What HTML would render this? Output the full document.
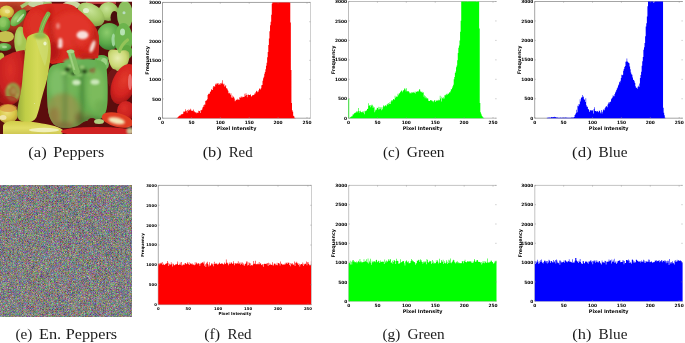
<!DOCTYPE html>
<html><head><meta charset="utf-8"><title>Peppers histograms</title>
<style>
html,body{margin:0;padding:0;background:#fff;}
body{width:685px;height:343px;overflow:hidden;position:relative;}
svg{position:absolute;left:0;top:0;}
.cap{font-family:"Liberation Serif","DejaVu Serif",serif;font-size:13.6px;fill:#1a1a1a;}
</style></head><body>
<svg width="685" height="343" viewBox="0 0 685 343">
<defs>
<filter id="noise" x="0" y="185" width="132" height="131.7" filterUnits="userSpaceOnUse" color-interpolation-filters="sRGB">
<feTurbulence type="fractalNoise" baseFrequency="2.37" numOctaves="1" seed="3" result="t"/>
<feColorMatrix type="matrix" values="1 0 0 0 0.005  0 1 0 0 0  0 0 1 0 0  0 0 0 0 1"/>
</filter>
<filter id="soft" x="-5%" y="-5%" width="110%" height="110%"><feGaussianBlur stdDeviation="0.7"/></filter>
<filter id="sh" x="-30%" y="-30%" width="160%" height="160%"><feGaussianBlur stdDeviation="2.2"/></filter>
<filter id="sh1" x="-50%" y="-50%" width="200%" height="200%"><feGaussianBlur stdDeviation="0.8"/></filter>
<clipPath id="pclip"><rect x="0" y="1.8" width="132" height="132.2"/></clipPath>
</defs>
<g clip-path="url(#pclip)">
<g filter="url(#soft)">
<defs>
<radialGradient id="gRed" cx="45%" cy="40%" r="65%"><stop offset="0" stop-color="#e23a2c"/><stop offset="0.6" stop-color="#d42420"/><stop offset="1" stop-color="#a01414"/></radialGradient>
<radialGradient id="gRed2" cx="40%" cy="35%" r="70%"><stop offset="0" stop-color="#dc3028"/><stop offset="0.65" stop-color="#c82020"/><stop offset="1" stop-color="#8a1010"/></radialGradient>
<radialGradient id="gGreen" cx="40%" cy="35%" r="70%"><stop offset="0" stop-color="#8ccc6c"/><stop offset="0.6" stop-color="#5aa848"/><stop offset="1" stop-color="#3a7a30"/></radialGradient>
<radialGradient id="gGreenL" cx="40%" cy="35%" r="70%"><stop offset="0" stop-color="#a0d878"/><stop offset="0.6" stop-color="#6cb44a"/><stop offset="1" stop-color="#4a8a34"/></radialGradient>
<radialGradient id="gLGreen" cx="40%" cy="35%" r="70%"><stop offset="0" stop-color="#c8e498"/><stop offset="0.6" stop-color="#a6ca66"/><stop offset="1" stop-color="#7a9c44"/></radialGradient>
<radialGradient id="gYel" cx="45%" cy="40%" r="65%"><stop offset="0" stop-color="#ece07c"/><stop offset="0.6" stop-color="#d8c646"/><stop offset="1" stop-color="#b09030"/></radialGradient>
<radialGradient id="gPale" cx="45%" cy="40%" r="65%"><stop offset="0" stop-color="#e8eeb0"/><stop offset="0.6" stop-color="#cad874"/><stop offset="1" stop-color="#98a84c"/></radialGradient>
<linearGradient id="gChili" x1="0" y1="0" x2="1" y2="0"><stop offset="0" stop-color="#98ae3c"/><stop offset="0.25" stop-color="#c0ce46"/><stop offset="0.6" stop-color="#d4da58"/><stop offset="1" stop-color="#bec848"/></linearGradient>
<linearGradient id="gBell" x1="0" y1="0" x2="0" y2="1"><stop offset="0" stop-color="#62aa52"/><stop offset="0.45" stop-color="#74b452"/><stop offset="0.8" stop-color="#88a048"/><stop offset="1" stop-color="#8a6a38"/></linearGradient>
<linearGradient id="gLie" x1="0" y1="0" x2="0" y2="1"><stop offset="0" stop-color="#d0cc48"/><stop offset="0.5" stop-color="#e2de66"/><stop offset="1" stop-color="#ccc450"/></linearGradient>
</defs>
<rect x="-6" y="-6" width="144" height="148" fill="#5c0e0e"/>
<!-- top strip -->
<path d="M-4,-4 H34 V9 C30,10 26,11 22,12 C18,10 14,8 10,8 L-4,8 Z" fill="#c44a30"/>
<rect x="86" y="0" width="30" height="4" fill="#b83a3a"/>
<!-- TL small peppers -->
<ellipse cx="12" cy="18" rx="16" ry="14" fill="#a8301e" filter="url(#sh)"/>
<ellipse cx="8" cy="40" rx="12" ry="8" fill="#7a1a14" filter="url(#sh)"/>
<ellipse cx="6.5" cy="12" rx="7.5" ry="6.5" fill="url(#gYel)"/>
<ellipse cx="7.5" cy="11.5" rx="2.5" ry="2" fill="#f0e8a0" opacity="0.8"/>
<ellipse cx="18.3" cy="17.8" rx="10.5" ry="5.2" transform="rotate(-48 18.3 17.8)" fill="url(#gGreenL)"/>
<ellipse cx="20.5" cy="18" rx="5.5" ry="1.2" transform="rotate(-50 20.5 18)" fill="#c0e8b0" opacity="0.85"/>
<ellipse cx="4" cy="24" rx="6.5" ry="7.5" fill="url(#gGreenL)"/>
<ellipse cx="3" cy="23" rx="3" ry="4" fill="#8cc860" opacity="0.7"/>
<ellipse cx="5.5" cy="36.5" rx="8.5" ry="5.5" fill="#c6c050"/>
<ellipse cx="4" cy="47" rx="7.5" ry="4" fill="url(#gGreen)"/>
<ellipse cx="4.5" cy="47" rx="2.5" ry="1.3" fill="#b0dca0" opacity="0.8"/>
<ellipse cx="1" cy="58" rx="3.5" ry="5.5" fill="#b0c040"/>
<ellipse cx="20.5" cy="41" rx="6.3" ry="14.5" fill="#a4c652"/>
<ellipse cx="19" cy="38" rx="3" ry="8" fill="#bcd878" opacity="0.7" filter="url(#sh1)"/>
<path d="M21,7 L30,1.5" stroke="#a6c872" stroke-width="3.5"/>
<ellipse cx="37" cy="4" rx="9" ry="3.5" fill="#c4d4a0"/>
<ellipse cx="47.5" cy="3.5" rx="4.5" ry="2.5" fill="#a0c070"/>
<ellipse cx="71.5" cy="5" rx="9" ry="4" fill="#c8d8a0"/>
<!-- top right greens -->
<ellipse cx="108.5" cy="11.5" rx="10" ry="9.5" fill="url(#gLGreen)"/>
<ellipse cx="114.5" cy="17.5" rx="4" ry="6.5" fill="#4a0e0a"/>
<ellipse cx="125" cy="15" rx="8" ry="14" fill="#8cc060"/>
<ellipse cx="124" cy="12.8" rx="1.5" ry="1.5" fill="#b8dcc0"/>
<ellipse cx="91" cy="14.5" rx="15" ry="10" transform="rotate(35 91 14.5)" fill="url(#gLGreen)"/>
<ellipse cx="86" cy="10.5" rx="3" ry="2.6" fill="#e4f2d4" opacity="0.9"/>
<!-- mid right greens -->
<ellipse cx="97.5" cy="38" rx="3" ry="12" fill="#5a0e0e"/>
<ellipse cx="109.3" cy="36.5" rx="12.5" ry="13.5" fill="url(#gGreen)"/>
<ellipse cx="113.5" cy="40" rx="2" ry="6.5" fill="#a8dca8" opacity="0.85"/>
<ellipse cx="123.5" cy="39" rx="9" ry="16" fill="#6cb44e"/>
<ellipse cx="122.5" cy="32" rx="2.5" ry="3.5" fill="#c0e8c0" opacity="0.9"/>
<ellipse cx="101.5" cy="59" rx="7" ry="4" fill="#5eae4c"/>
<ellipse cx="127" cy="52" rx="5.5" ry="7" fill="#5ea840"/>
<!-- big red pepper -->
<clipPath id="redClip"><path d="M31,9 C36,4 48,3 60,3.5 C66,3.5 70,4 74,6 C79,10 85,15 89,19 C94,24 98,30 98.7,36 C99.5,44 99,52 98,58 L52,64 C44,60 38,52 33,46 C28,42 24,38 23,32 C22,24 26,14 31,9 Z"/></clipPath>
<path d="M31,9 C36,4 48,3 60,3.5 C66,3.5 70,4 74,6 C79,10 85,15 89,19 C94,24 98,30 98.7,36 C99.5,44 99,52 98,58 L52,64 C44,60 38,52 33,46 C28,42 24,38 23,32 C22,24 26,14 31,9 Z" fill="#d82a20"/>
<g clip-path="url(#redClip)"><g filter="url(#sh)">
<ellipse cx="72" cy="30" rx="20" ry="18" fill="#e43a2a" opacity="0.8"/>
<ellipse cx="36" cy="24" rx="9" ry="13" fill="#e03428" opacity="0.7"/>
<ellipse cx="50" cy="52" rx="10" ry="10" fill="#a81616" opacity="0.7"/>
<ellipse cx="96" cy="40" rx="4" ry="16" fill="#b01a16" opacity="0.6"/>
<ellipse cx="88" cy="58" rx="10" ry="5" fill="#b81c18" opacity="0.6"/>
<path d="M50,8 C49,20 51,34 55,46" stroke="#a01412" stroke-width="2.5" fill="none" opacity="0.7"/>
<path d="M72,40 C76,48 82,54 88,56" stroke="#b01814" stroke-width="2" fill="none" opacity="0.5"/>
</g>
<g filter="url(#sh1)">
<ellipse cx="82.5" cy="35" rx="6" ry="4.3" fill="#f8e0dc"/>
<ellipse cx="60.4" cy="43" rx="2.2" ry="5" fill="#f8dcd8" opacity="0.95"/>
<ellipse cx="92.5" cy="46.5" rx="2.2" ry="6.5" transform="rotate(20 92.5 46.5)" fill="#f4d8d0"/>
<ellipse cx="58" cy="26" rx="2" ry="3" fill="#f4b8b0" opacity="0.6"/>
<ellipse cx="60" cy="46.5" rx="2.5" ry="1.8" fill="#f8e8e4" opacity="0.7"/>
</g></g>
<!-- small yellow-green pepper -->
<path d="M108,54 C108,50 111,49 114,49.5 C117,50 120,51 122,50.5 C126,49.5 129.5,51 129.5,55 C129.5,61 127,66 124,69 C121,72 116,72 113,69 C110,66 108,60 108,54 Z" fill="url(#gPale)"/>
<path d="M119.5,51.5 C121,46 124,42.5 127.5,40" stroke="#94c458" stroke-width="3.2" stroke-linecap="round" fill="none"/>
<ellipse cx="113.5" cy="79" rx="6" ry="10" fill="#701818"/>
<!-- red right -->
<ellipse cx="124" cy="84" rx="12" ry="21" transform="rotate(22 124 84)" fill="url(#gRed)"/>
<ellipse cx="130" cy="82" rx="2" ry="8" fill="#f08080" opacity="0.8"/>
<ellipse cx="126" cy="111" rx="9" ry="10" fill="url(#gRed2)"/>
<!-- left red pepper -->
<path d="M0,60 C4,56 14,51 24.5,50 C26,60 26,75 24,88 C22,98 16,105 8,106 L0,106 Z" fill="url(#gRed2)"/>
<g filter="url(#sh1)">
<ellipse cx="13" cy="92" rx="5.8" ry="7.6" fill="#a0602c" stroke="#9a9444" stroke-width="4"/>
<ellipse cx="13.5" cy="91" rx="2.8" ry="3.5" fill="#a88a48"/>
<circle cx="9" cy="87" r="1.2" fill="#c0b060"/><circle cx="17" cy="95" r="1.2" fill="#b8a858"/><circle cx="12" cy="99" r="1.1" fill="#a89850"/>
</g>
<ellipse cx="8" cy="100" rx="9" ry="4" fill="#b01a1a" opacity="0.6"/>
<!-- yellow BL -->
<ellipse cx="8" cy="114" rx="10" ry="9.5" fill="url(#gYel)"/>
<ellipse cx="8" cy="108" rx="9" ry="4" fill="#dc9a40" opacity="0.7"/>
<ellipse cx="3" cy="117.5" rx="3.5" ry="2.5" fill="#f0e4a8"/>
<!-- green bell -->
<ellipse cx="102" cy="64" rx="7" ry="7" fill="#78bc60"/>
<ellipse cx="104" cy="62" rx="3" ry="4" fill="#a8d890" opacity="0.8"/>
<clipPath id="bellClip"><path d="M48.9,70.4 C51,66 53,64.5 56.2,64.3 C59,63 61,63 63.6,63.1 C70,61 80,59.5 88,59.4 C94,59.5 98,60 100,60.7 C104,62 106,64 106.3,66.8 C107.6,75 108,90 107.6,100 C107.3,108 106,113 103.5,116.5 C100.5,119.5 96,120.5 91,120.5 C86,120.5 83,121.5 80.5,124 C76,127.5 68,128 63.6,127.8 C59,127.5 56,126 53.8,124.2 C50,120 48.2,114 47.7,107 C47,98 46.6,90 47,82.7 C47.2,77 47.8,73 48.9,70.4 Z"/></clipPath>
<path d="M48.9,70.4 C51,66 53,64.5 56.2,64.3 C59,63 61,63 63.6,63.1 C70,61 80,59.5 88,59.4 C94,59.5 98,60 100,60.7 C104,62 106,64 106.3,66.8 C107.6,75 108,90 107.6,100 C107.3,108 106,113 103.5,116.5 C100.5,119.5 96,120.5 91,120.5 C86,120.5 83,121.5 80.5,124 C76,127.5 68,128 63.6,127.8 C59,127.5 56,126 53.8,124.2 C50,120 48.2,114 47.7,107 C47,98 46.6,90 47,82.7 C47.2,77 47.8,73 48.9,70.4 Z" fill="#66ae50"/>
<g clip-path="url(#bellClip)"><g filter="url(#sh)">
<ellipse cx="57" cy="84" rx="8" ry="16" fill="#82c26a" opacity="0.8"/>
<ellipse cx="96" cy="90" rx="9" ry="22" fill="#80be5e" opacity="0.8"/>
<ellipse cx="72" cy="86" rx="6" ry="12" fill="#76b85c" opacity="0.7"/>
<ellipse cx="63" cy="110" rx="17" ry="17" fill="#8e9a4c" opacity="0.9"/>
<ellipse cx="64" cy="126" rx="12" ry="4" fill="#8a5432" opacity="0.6"/>
<ellipse cx="54" cy="116" rx="6" ry="9" fill="#9a6a38" opacity="0.5"/>
<ellipse cx="84" cy="118" rx="8" ry="6" fill="#7a8a40" opacity="0.6"/>
<ellipse cx="100" cy="108" rx="6" ry="8" fill="#6aaa4c" opacity="0.6"/>
<ellipse cx="92" cy="120" rx="13" ry="3.5" fill="#3e6a2c" opacity="0.55"/>
<ellipse cx="79" cy="120" rx="4" ry="8" fill="#7a4a2c" opacity="0.5"/>
<path d="M64.5,72 C65.5,90 65.5,110 64,126" stroke="#3e6e2c" stroke-width="2" fill="none" opacity="0.7"/>
<path d="M81.5,72 C82.5,90 82.5,110 81,126" stroke="#346c28" stroke-width="2.4" fill="none" opacity="0.8"/>
<path d="M57,96 C58,106 59,114 60,122 M70,98 C71,108 72,116 72,124" stroke="#c0a060" stroke-width="1.4" fill="none" opacity="0.5"/>
</g>
<ellipse cx="76.5" cy="82.5" rx="4.2" ry="2.8" fill="#d4ecc4" opacity="0.95" filter="url(#sh1)"/>
<ellipse cx="95" cy="82" rx="4.5" ry="2.8" fill="#d0eac0" opacity="0.95" filter="url(#sh1)"/>
<ellipse cx="92" cy="70" rx="3.2" ry="3.2" fill="#a04030" opacity="0.5" filter="url(#sh1)"/>
</g>
<!-- crown + stem -->
<g filter="url(#sh1)">
<ellipse cx="74" cy="62.5" rx="11" ry="4.5" fill="#6cb45a"/>
<ellipse cx="88" cy="64" rx="8" ry="5" fill="#68b056"/>
<ellipse cx="76" cy="70" rx="12.5" ry="5" fill="#5e9e46"/>
<ellipse cx="67.5" cy="69.5" rx="2.6" ry="2.2" fill="#2c4a1c"/>
<ellipse cx="84.5" cy="71.5" rx="2.6" ry="2" fill="#2c4a1c"/>
<ellipse cx="73" cy="74" rx="2.5" ry="1.4" fill="#2a4a1c"/>
<ellipse cx="63.5" cy="73" rx="3.2" ry="2" fill="#90c870"/><ellipse cx="70" cy="66" rx="2.5" ry="1.6" fill="#9ccc78"/><ellipse cx="82" cy="67" rx="2.5" ry="1.6" fill="#9ccc78"/>
<ellipse cx="89.5" cy="74.5" rx="3" ry="1.8" fill="#7cb85c"/>
<ellipse cx="79" cy="75" rx="3.5" ry="1.6" fill="#8ac46a"/>
<ellipse cx="70" cy="76" rx="2.5" ry="1.4" fill="#7ab85a"/>
</g>
<path d="M70.8,52.5 C72.5,58 74,64 76.5,71.5" stroke="#80bc60" stroke-width="6.5" stroke-linecap="round" fill="none"/>
<path d="M69.5,53 C71,58 72.5,64 74.5,70" stroke="#a6d688" stroke-width="1.8" fill="none" opacity="0.8"/>
<ellipse cx="70.5" cy="51.5" rx="4" ry="1.8" fill="#a8d488"/>
<!-- chili -->
<path d="M40.5,34 C41.5,26 45,19 48.2,14" stroke="#7cb44c" stroke-width="4.6" stroke-linecap="round" fill="none"/>
<path d="M40,33 C43,25 45.5,19 48,14.5" stroke="#9ccc6c" stroke-width="1" fill="none" opacity="0.8"/>
<path d="M27,38 C29,34.5 34,33 40,33 C45,33 48.5,35 49.8,40 C51,45 51,52 50.5,57 C50,62 49.6,64 49.2,66 C48.5,72 47.5,78 45.5,85 C44,90 42.5,95 41.2,100 C39.8,106 38.5,112 36.5,117 C34.5,121 31,122.5 26,122.3 C20.5,122 17,119 17,114 C17.2,108 19,100 20.5,94 C21.5,88 22,84 22.5,78 C23.2,70 23.8,64 24.5,57 C25.2,50 25.8,43 27,38 Z" fill="url(#gChili)"/>
<path d="M35,36 C40,35 46,37 48,42 C49,50 47,60 45,66 C42,60 38,48 35,36 Z" fill="#d0e07a" opacity="0.6"/>
<ellipse cx="45" cy="43.5" rx="1.6" ry="2" fill="#eef6d0" opacity="0.9"/>
<path d="M34,103 L35,104" stroke="#e8f0c8" stroke-width="1" opacity="0.6"/>
<ellipse cx="40" cy="36" rx="6.5" ry="3.2" fill="#9cbc4a" filter="url(#sh1)"/>
<ellipse cx="41" cy="34.5" rx="3.5" ry="2" fill="#90c058" filter="url(#sh1)"/>
<!-- bottom lying pale yellow -->
<path d="M3,126 C4,122 9,120.5 14,121 C24,121 36,122 42,123.5 C52,125 60,127 64,131 C64,134 60,135 50,135 L3,135 Z" fill="url(#gLie)"/>
<ellipse cx="44" cy="130" rx="15" ry="2.2" fill="#f4f4c8" opacity="0.85"/>
<!-- bottom right -->
<ellipse cx="92" cy="123" rx="5" ry="5" fill="#601010"/>
<ellipse cx="117.5" cy="120" rx="16" ry="7" transform="rotate(14 117.5 120)" fill="#e03c22"/>
<ellipse cx="116.5" cy="120.8" rx="8.5" ry="3.2" transform="rotate(12 116.5 120.8)" fill="#f4e8b8" filter="url(#sh1)"/>
<ellipse cx="99" cy="121.5" rx="5" ry="2.5" fill="#b0d080"/>
<ellipse cx="97" cy="131.5" rx="36" ry="4.5" fill="#d02020"/>
<ellipse cx="130" cy="131" rx="3.5" ry="3.5" fill="#c8dca8" opacity="0.85" filter="url(#sh1)"/>

</g>
</g>
<rect x="0" y="185" width="132" height="131.7" filter="url(#noise)"/>
<path d="M162.5,2.45H310.5" stroke="#9a9a9a" stroke-width="0.9" fill="none"/>
<path d="M162.5,2.45V118.2H310.5" stroke="#9a9a9a" stroke-width="0.9" fill="none"/>
<path d="M162.50,118.20L162.50,118.20L163.08,118.20L163.08,118.20L163.66,118.20L163.66,118.20L164.23,118.20L164.23,118.20L164.81,118.20L164.81,118.20L165.39,118.20L165.39,118.20L165.97,118.20L165.97,118.20L166.55,118.20L166.55,118.20L167.12,118.20L167.12,118.20L167.70,118.20L167.70,118.20L168.28,118.20L168.28,118.20L168.86,118.20L168.86,118.20L169.44,118.20L169.44,118.20L170.02,118.20L170.02,118.20L170.59,118.20L170.59,118.20L171.17,118.20L171.17,118.20L171.75,118.20L171.75,118.20L172.33,118.20L172.33,118.20L172.91,118.20L172.91,118.20L173.48,118.20L173.48,118.20L174.06,118.20L174.06,118.20L174.64,118.20L174.64,118.20L175.22,118.20L175.22,118.20L175.80,118.20L175.80,118.20L176.38,118.20L176.38,118.00L176.95,118.00L176.95,117.75L177.53,117.75L177.53,117.43L178.11,117.43L178.11,116.74L178.69,116.74L178.69,116.07L179.27,116.07L179.27,115.54L179.84,115.54L179.84,115.66L180.42,115.66L180.42,114.75L181.00,114.75L181.00,114.09L181.58,114.09L181.58,114.64L182.16,114.64L182.16,113.96L182.73,113.96L182.73,113.70L183.31,113.70L183.31,111.59L183.89,111.59L183.89,111.88L184.47,111.88L184.47,111.25L185.05,111.25L185.05,109.36L185.62,109.36L185.62,111.31L186.20,111.31L186.20,110.77L186.78,110.77L186.78,112.75L187.36,112.75L187.36,110.09L187.94,110.09L187.94,109.57L188.52,109.57L188.52,110.94L189.09,110.94L189.09,109.66L189.67,109.66L189.67,110.31L190.25,110.31L190.25,108.87L190.83,108.87L190.83,109.81L191.41,109.81L191.41,111.00L191.98,111.00L191.98,110.93L192.56,110.93L192.56,110.61L193.14,110.61L193.14,109.58L193.72,109.58L193.72,111.58L194.30,111.58L194.30,111.49L194.88,111.49L194.88,112.51L195.45,112.51L195.45,112.20L196.03,112.20L196.03,113.32L196.61,113.32L196.61,112.23L197.19,112.23L197.19,112.65L197.77,112.65L197.77,113.04L198.34,113.04L198.34,110.84L198.92,110.84L198.92,111.30L199.50,111.30L199.50,110.91L200.08,110.91L200.08,113.03L200.66,113.03L200.66,110.06L201.23,110.06L201.23,110.20L201.81,110.20L201.81,109.48L202.39,109.48L202.39,107.53L202.97,107.53L202.97,105.18L203.55,105.18L203.55,106.99L204.12,106.99L204.12,104.52L204.70,104.52L204.70,104.80L205.28,104.80L205.28,100.94L205.86,100.94L205.86,100.25L206.44,100.25L206.44,100.46L207.02,100.46L207.02,99.23L207.59,99.23L207.59,95.00L208.17,95.00L208.17,93.74L208.75,93.74L208.75,93.93L209.33,93.93L209.33,93.62L209.91,93.62L209.91,92.10L210.48,92.10L210.48,91.37L211.06,91.37L211.06,89.05L211.64,89.05L211.64,89.99L212.22,89.99L212.22,89.95L212.80,89.95L212.80,87.61L213.38,87.61L213.38,85.88L213.95,85.88L213.95,85.99L214.53,85.99L214.53,87.03L215.11,87.03L215.11,83.72L215.69,83.72L215.69,84.99L216.27,84.99L216.27,83.46L216.84,83.46L216.84,83.87L217.42,83.87L217.42,83.20L218.00,83.20L218.00,83.23L218.58,83.23L218.58,84.89L219.16,84.89L219.16,83.72L219.73,83.72L219.73,84.75L220.31,84.75L220.31,83.15L220.89,83.15L220.89,82.80L221.47,82.80L221.47,83.77L222.05,83.77L222.05,80.26L222.62,80.26L222.62,83.52L223.20,83.52L223.20,84.55L223.78,84.55L223.78,83.82L224.36,83.82L224.36,86.50L224.94,86.50L224.94,86.18L225.52,86.18L225.52,84.90L226.09,84.90L226.09,88.18L226.67,88.18L226.67,88.16L227.25,88.16L227.25,89.53L227.83,89.53L227.83,90.79L228.41,90.79L228.41,93.20L228.98,93.20L228.98,92.80L229.56,92.80L229.56,93.51L230.14,93.51L230.14,94.83L230.72,94.83L230.72,93.27L231.30,93.27L231.30,97.45L231.88,97.45L231.88,95.48L232.45,95.48L232.45,97.73L233.03,97.73L233.03,96.58L233.61,96.58L233.61,97.32L234.19,97.32L234.19,98.41L234.77,98.41L234.77,101.34L235.34,101.34L235.34,100.44L235.92,100.44L235.92,99.43L236.50,99.43L236.50,99.91L237.08,99.91L237.08,98.82L237.66,98.82L237.66,99.90L238.23,99.90L238.23,99.15L238.81,99.15L238.81,100.07L239.39,100.07L239.39,97.28L239.97,97.28L239.97,97.90L240.55,97.90L240.55,96.85L241.12,96.85L241.12,96.59L241.70,96.59L241.70,97.76L242.28,97.76L242.28,96.73L242.86,96.73L242.86,96.83L243.44,96.83L243.44,97.10L244.02,97.10L244.02,96.66L244.59,96.66L244.59,93.82L245.17,93.82L245.17,95.84L245.75,95.84L245.75,93.24L246.33,93.24L246.33,95.03L246.91,95.03L246.91,97.14L247.48,97.14L247.48,94.74L248.06,94.74L248.06,94.48L248.64,94.48L248.64,95.00L249.22,95.00L249.22,94.92L249.80,94.92L249.80,95.05L250.38,95.05L250.38,94.30L250.95,94.30L250.95,96.44L251.53,96.44L251.53,96.34L252.11,96.34L252.11,95.25L252.69,95.25L252.69,95.33L253.27,95.33L253.27,95.08L253.84,95.08L253.84,94.86L254.42,94.86L254.42,93.53L255.00,93.53L255.00,93.42L255.58,93.42L255.58,91.97L256.16,91.97L256.16,90.68L256.73,90.68L256.73,90.91L257.31,90.91L257.31,92.18L257.89,92.18L257.89,91.73L258.47,91.73L258.47,90.17L259.05,90.17L259.05,88.60L259.62,88.60L259.62,88.77L260.20,88.77L260.20,89.47L260.78,89.47L260.78,88.34L261.36,88.34L261.36,85.30L261.94,85.30L261.94,85.12L262.52,85.12L262.52,80.71L263.09,80.71L263.09,78.20L263.67,78.20L263.67,76.80L264.25,76.80L264.25,73.73L264.83,73.73L264.83,71.88L265.41,71.88L265.41,69.32L265.98,69.32L265.98,65.68L266.56,65.68L266.56,62.74L267.14,62.74L267.14,57.22L267.72,57.22L267.72,52.10L268.30,52.10L268.30,45.00L268.88,45.00L268.88,38.50L269.45,38.50L269.45,31.26L270.03,31.26L270.03,25.19L270.61,25.19L270.61,21.66L271.19,21.66L271.19,14.73L271.77,14.73L271.77,3.78L272.34,3.78L272.34,2.45L272.92,2.45L272.92,2.45L273.50,2.45L273.50,2.45L274.08,2.45L274.08,2.45L274.66,2.45L274.66,2.45L275.23,2.45L275.23,2.45L275.81,2.45L275.81,2.45L276.39,2.45L276.39,2.45L276.97,2.45L276.97,2.45L277.55,2.45L277.55,2.45L278.12,2.45L278.12,2.45L278.70,2.45L278.70,2.45L279.28,2.45L279.28,2.45L279.86,2.45L279.86,2.45L280.44,2.45L280.44,2.45L281.02,2.45L281.02,2.45L281.59,2.45L281.59,2.45L282.17,2.45L282.17,2.45L282.75,2.45L282.75,2.45L283.33,2.45L283.33,2.45L283.91,2.45L283.91,2.45L284.48,2.45L284.48,2.45L285.06,2.45L285.06,2.45L285.64,2.45L285.64,2.45L286.22,2.45L286.22,2.45L286.80,2.45L286.80,2.45L287.38,2.45L287.38,2.45L287.95,2.45L287.95,2.45L288.53,2.45L288.53,2.45L289.11,2.45L289.11,2.45L289.69,2.45L289.69,2.79L290.27,2.79L290.27,22.61L290.84,22.61L290.84,69.99L291.42,69.99L291.42,103.08L292.00,103.08L292.00,110.19L292.58,110.19L292.58,111.77L293.16,111.77L293.16,115.68L293.73,115.68L293.73,116.23L294.31,116.23L294.31,117.65L294.89,117.65L294.89,118.01L295.47,118.01L295.47,118.20L296.05,118.20L296.05,118.20L296.62,118.20L296.62,118.20L297.20,118.20L297.20,118.20L297.78,118.20L297.78,118.20L298.36,118.20L298.36,118.20L298.94,118.20L298.94,118.20L299.52,118.20L299.52,118.20L300.09,118.20L300.09,118.20L300.67,118.20L300.67,118.20L301.25,118.20L301.25,118.20L301.83,118.20L301.83,118.20L302.41,118.20L302.41,118.20L302.98,118.20L302.98,118.20L303.56,118.20L303.56,118.20L304.14,118.20L304.14,118.20L304.72,118.20L304.72,118.20L305.30,118.20L305.30,118.20L305.88,118.20L305.88,118.20L306.45,118.20L306.45,118.20L307.03,118.20L307.03,118.20L307.61,118.20L307.61,118.20L308.19,118.20L308.19,118.20L308.77,118.20L308.77,118.20L309.34,118.20L309.34,118.20L309.92,118.20L309.92,118.20L310.50,118.20L310.50,118.20Z" fill="#ff0000"/>
<path d="M310.5,2.45V118.2" stroke="#c8c8c8" stroke-width="0.9" fill="none"/>
<path d="M162.50,118.2v-1.2M162.50,2.45v1.2" stroke="#888" stroke-width="0.5"/>
<path d="M191.41,118.2v-1.2M191.41,2.45v1.2" stroke="#888" stroke-width="0.5"/>
<path d="M220.31,118.2v-1.2M220.31,2.45v1.2" stroke="#888" stroke-width="0.5"/>
<path d="M249.22,118.2v-1.2M249.22,2.45v1.2" stroke="#888" stroke-width="0.5"/>
<path d="M278.12,118.2v-1.2M278.12,2.45v1.2" stroke="#888" stroke-width="0.5"/>
<path d="M307.03,118.2v-1.2M307.03,2.45v1.2" stroke="#888" stroke-width="0.5"/>
<path d="M162.5,118.20h1.2M310.5,118.20h-1.2" stroke="#888" stroke-width="0.5"/>
<path d="M162.5,98.91h1.2M310.5,98.91h-1.2" stroke="#888" stroke-width="0.5"/>
<path d="M162.5,79.62h1.2M310.5,79.62h-1.2" stroke="#888" stroke-width="0.5"/>
<path d="M162.5,60.33h1.2M310.5,60.33h-1.2" stroke="#888" stroke-width="0.5"/>
<path d="M162.5,41.03h1.2M310.5,41.03h-1.2" stroke="#888" stroke-width="0.5"/>
<path d="M162.5,21.74h1.2M310.5,21.74h-1.2" stroke="#888" stroke-width="0.5"/>
<path d="M162.5,2.45h1.2M310.5,2.45h-1.2" stroke="#888" stroke-width="0.5"/>
<text x="162.50" y="124.10" font-family="'DejaVu Sans', sans-serif" font-size="4.35" font-weight="bold" text-anchor="middle">0</text>
<text x="191.41" y="124.10" font-family="'DejaVu Sans', sans-serif" font-size="4.35" font-weight="bold" text-anchor="middle">50</text>
<text x="220.31" y="124.10" font-family="'DejaVu Sans', sans-serif" font-size="4.35" font-weight="bold" text-anchor="middle">100</text>
<text x="249.22" y="124.10" font-family="'DejaVu Sans', sans-serif" font-size="4.35" font-weight="bold" text-anchor="middle">150</text>
<text x="278.12" y="124.10" font-family="'DejaVu Sans', sans-serif" font-size="4.35" font-weight="bold" text-anchor="middle">200</text>
<text x="307.03" y="124.10" font-family="'DejaVu Sans', sans-serif" font-size="4.35" font-weight="bold" text-anchor="middle">250</text>
<text x="161.10" y="119.80" font-family="'DejaVu Sans', sans-serif" font-size="4.35" font-weight="bold" text-anchor="end">0</text>
<text x="161.10" y="100.51" font-family="'DejaVu Sans', sans-serif" font-size="4.35" font-weight="bold" text-anchor="end">500</text>
<text x="161.10" y="81.22" font-family="'DejaVu Sans', sans-serif" font-size="4.35" font-weight="bold" text-anchor="end">1000</text>
<text x="161.10" y="61.93" font-family="'DejaVu Sans', sans-serif" font-size="4.35" font-weight="bold" text-anchor="end">1500</text>
<text x="161.10" y="42.63" font-family="'DejaVu Sans', sans-serif" font-size="4.35" font-weight="bold" text-anchor="end">2000</text>
<text x="161.10" y="23.34" font-family="'DejaVu Sans', sans-serif" font-size="4.35" font-weight="bold" text-anchor="end">2500</text>
<text x="161.10" y="4.05" font-family="'DejaVu Sans', sans-serif" font-size="4.35" font-weight="bold" text-anchor="end">3000</text>
<text x="236.50" y="130.00" font-family="'DejaVu Sans', sans-serif" font-size="4.9" font-weight="bold" text-anchor="middle">Pixel Intensity</text>
<text x="0" y="0" transform="translate(149.00,60.33) rotate(-90)" font-family="'DejaVu Sans', sans-serif" font-size="4.9" font-weight="bold" text-anchor="middle">Frequency</text>
<path d="M348.5,1.5H496.5" stroke="#b4b4b4" stroke-width="0.9" fill="none"/>
<path d="M348.5,1.5V118.2H496.5" stroke="#b4b4b4" stroke-width="0.9" fill="none"/>
<path d="M348.50,118.20L348.50,118.15L349.08,118.15L349.08,118.01L349.66,118.01L349.66,117.89L350.23,117.89L350.23,117.01L350.81,117.01L350.81,116.80L351.39,116.80L351.39,116.30L351.97,116.30L351.97,116.16L352.55,116.16L352.55,114.58L353.12,114.58L353.12,114.60L353.70,114.60L353.70,113.86L354.28,113.86L354.28,113.07L354.86,113.07L354.86,112.71L355.44,112.71L355.44,112.49L356.02,112.49L356.02,112.21L356.59,112.21L356.59,111.04L357.17,111.04L357.17,112.14L357.75,112.14L357.75,110.98L358.33,110.98L358.33,107.98L358.91,107.98L358.91,112.72L359.48,112.72L359.48,110.89L360.06,110.89L360.06,110.65L360.64,110.65L360.64,111.97L361.22,111.97L361.22,112.14L361.80,112.14L361.80,112.15L362.38,112.15L362.38,111.38L362.95,111.38L362.95,112.72L363.53,112.72L363.53,111.18L364.11,111.18L364.11,114.22L364.69,114.22L364.69,110.73L365.27,110.73L365.27,111.23L365.84,111.23L365.84,110.81L366.42,110.81L366.42,110.36L367.00,110.36L367.00,108.97L367.58,108.97L367.58,108.79L368.16,108.79L368.16,103.29L368.73,103.29L368.73,106.05L369.31,106.05L369.31,105.20L369.89,105.20L369.89,105.01L370.47,105.01L370.47,107.28L371.05,107.28L371.05,104.63L371.62,104.63L371.62,106.06L372.20,106.06L372.20,104.63L372.78,104.63L372.78,107.89L373.36,107.89L373.36,106.52L373.94,106.52L373.94,107.30L374.52,107.30L374.52,112.36L375.09,112.36L375.09,110.43L375.67,110.43L375.67,109.54L376.25,109.54L376.25,109.64L376.83,109.64L376.83,107.76L377.41,107.76L377.41,108.09L377.98,108.09L377.98,109.62L378.56,109.62L378.56,106.70L379.14,106.70L379.14,109.26L379.72,109.26L379.72,106.92L380.30,106.92L380.30,108.82L380.88,108.82L380.88,107.27L381.45,107.27L381.45,110.29L382.03,110.29L382.03,109.30L382.61,109.30L382.61,107.32L383.19,107.32L383.19,105.31L383.77,105.31L383.77,106.08L384.34,106.08L384.34,106.42L384.92,106.42L384.92,104.90L385.50,104.90L385.50,105.86L386.08,105.86L386.08,106.17L386.66,106.17L386.66,104.54L387.23,104.54L387.23,103.72L387.81,103.72L387.81,104.70L388.39,104.70L388.39,103.12L388.97,103.12L388.97,104.01L389.55,104.01L389.55,102.33L390.12,102.33L390.12,104.11L390.70,104.11L390.70,101.61L391.28,101.61L391.28,100.35L391.86,100.35L391.86,101.26L392.44,101.26L392.44,99.91L393.02,99.91L393.02,98.98L393.59,98.98L393.59,99.30L394.17,99.30L394.17,99.69L394.75,99.69L394.75,95.85L395.33,95.85L395.33,97.63L395.91,97.63L395.91,96.92L396.48,96.92L396.48,96.34L397.06,96.34L397.06,96.81L397.64,96.81L397.64,93.78L398.22,93.78L398.22,95.29L398.80,95.29L398.80,93.60L399.38,93.60L399.38,93.28L399.95,93.28L399.95,92.21L400.53,92.21L400.53,91.40L401.11,91.40L401.11,90.48L401.69,90.48L401.69,90.87L402.27,90.87L402.27,92.29L402.84,92.29L402.84,90.65L403.42,90.65L403.42,89.97L404.00,89.97L404.00,89.17L404.58,89.17L404.58,88.07L405.16,88.07L405.16,89.62L405.73,89.62L405.73,91.61L406.31,91.61L406.31,88.21L406.89,88.21L406.89,90.92L407.47,90.92L407.47,91.48L408.05,91.48L408.05,90.91L408.62,90.91L408.62,91.64L409.20,91.64L409.20,92.48L409.78,92.48L409.78,93.57L410.36,93.57L410.36,92.73L410.94,92.73L410.94,93.29L411.52,93.29L411.52,91.99L412.09,91.99L412.09,92.71L412.67,92.71L412.67,92.15L413.25,92.15L413.25,92.46L413.83,92.46L413.83,91.78L414.41,91.78L414.41,92.88L414.98,92.88L414.98,93.50L415.56,93.50L415.56,91.48L416.14,91.48L416.14,91.70L416.72,91.70L416.72,91.88L417.30,91.88L417.30,90.98L417.88,90.98L417.88,91.76L418.45,91.76L418.45,90.85L419.03,90.85L419.03,89.33L419.61,89.33L419.61,89.56L420.19,89.56L420.19,91.58L420.77,91.58L420.77,91.55L421.34,91.55L421.34,92.15L421.92,92.15L421.92,91.86L422.50,91.86L422.50,92.99L423.08,92.99L423.08,92.19L423.66,92.19L423.66,96.67L424.23,96.67L424.23,95.27L424.81,95.27L424.81,98.13L425.39,98.13L425.39,96.17L425.97,96.17L425.97,97.16L426.55,97.16L426.55,98.52L427.12,98.52L427.12,98.34L427.70,98.34L427.70,98.49L428.28,98.49L428.28,100.72L428.86,100.72L428.86,100.94L429.44,100.94L429.44,100.96L430.02,100.96L430.02,100.28L430.59,100.28L430.59,99.88L431.17,99.88L431.17,100.41L431.75,100.41L431.75,100.49L432.33,100.49L432.33,101.18L432.91,101.18L432.91,102.20L433.48,102.20L433.48,101.03L434.06,101.03L434.06,100.15L434.64,100.15L434.64,100.15L435.22,100.15L435.22,102.06L435.80,102.06L435.80,100.63L436.38,100.63L436.38,100.52L436.95,100.52L436.95,100.38L437.53,100.38L437.53,100.53L438.11,100.53L438.11,99.84L438.69,99.84L438.69,100.79L439.27,100.79L439.27,100.11L439.84,100.11L439.84,95.79L440.42,95.79L440.42,98.48L441.00,98.48L441.00,101.61L441.58,101.61L441.58,96.64L442.16,96.64L442.16,97.91L442.73,97.91L442.73,98.67L443.31,98.67L443.31,97.19L443.89,97.19L443.89,98.38L444.47,98.38L444.47,95.17L445.05,95.17L445.05,94.70L445.62,94.70L445.62,95.40L446.20,95.40L446.20,94.32L446.78,94.32L446.78,93.47L447.36,93.47L447.36,94.81L447.94,94.81L447.94,94.01L448.52,94.01L448.52,93.24L449.09,93.24L449.09,92.31L449.67,92.31L449.67,92.57L450.25,92.57L450.25,91.31L450.83,91.31L450.83,89.31L451.41,89.31L451.41,89.34L451.98,89.34L451.98,87.85L452.56,87.85L452.56,86.19L453.14,86.19L453.14,84.70L453.72,84.70L453.72,79.28L454.30,79.28L454.30,76.90L454.88,76.90L454.88,73.04L455.45,73.04L455.45,71.61L456.03,71.61L456.03,67.24L456.61,67.24L456.61,65.54L457.19,65.54L457.19,60.31L457.77,60.31L457.77,53.04L458.34,53.04L458.34,47.74L458.92,47.74L458.92,45.40L459.50,45.40L459.50,40.47L460.08,40.47L460.08,31.74L460.66,31.74L460.66,20.74L461.23,20.74L461.23,1.50L461.81,1.50L461.81,1.50L462.39,1.50L462.39,1.50L462.97,1.50L462.97,1.50L463.55,1.50L463.55,1.50L464.12,1.50L464.12,1.50L464.70,1.50L464.70,1.50L465.28,1.50L465.28,1.50L465.86,1.50L465.86,1.50L466.44,1.50L466.44,1.50L467.02,1.50L467.02,1.50L467.59,1.50L467.59,1.66L468.17,1.66L468.17,1.50L468.75,1.50L468.75,1.50L469.33,1.50L469.33,1.50L469.91,1.50L469.91,1.50L470.48,1.50L470.48,1.50L471.06,1.50L471.06,1.50L471.64,1.50L471.64,1.50L472.22,1.50L472.22,1.50L472.80,1.50L472.80,1.50L473.38,1.50L473.38,1.50L473.95,1.50L473.95,1.50L474.53,1.50L474.53,1.50L475.11,1.50L475.11,1.50L475.69,1.50L475.69,1.50L476.27,1.50L476.27,1.84L476.84,1.84L476.84,1.64L477.42,1.64L477.42,1.50L478.00,1.50L478.00,1.50L478.58,1.50L478.58,1.50L479.16,1.50L479.16,28.48L479.73,28.48L479.73,102.90L480.31,102.90L480.31,112.13L480.89,112.13L480.89,113.76L481.47,113.76L481.47,115.44L482.05,115.44L482.05,116.16L482.62,116.16L482.62,117.24L483.20,117.24L483.20,117.71L483.78,117.71L483.78,117.94L484.36,117.94L484.36,118.20L484.94,118.20L484.94,118.20L485.52,118.20L485.52,118.20L486.09,118.20L486.09,118.20L486.67,118.20L486.67,118.20L487.25,118.20L487.25,118.20L487.83,118.20L487.83,118.20L488.41,118.20L488.41,118.20L488.98,118.20L488.98,118.20L489.56,118.20L489.56,118.20L490.14,118.20L490.14,118.20L490.72,118.20L490.72,118.20L491.30,118.20L491.30,118.20L491.88,118.20L491.88,118.20L492.45,118.20L492.45,118.20L493.03,118.20L493.03,118.20L493.61,118.20L493.61,118.20L494.19,118.20L494.19,118.20L494.77,118.20L494.77,118.20L495.34,118.20L495.34,118.20L495.92,118.20L495.92,118.20L496.50,118.20L496.50,118.20Z M348.5,118.2V98.7H349.2V118.2Z" fill="#00ff00"/>
<path d="M348.50,118.2v-1.2M348.50,1.5v1.2" stroke="#888" stroke-width="0.5"/>
<path d="M377.41,118.2v-1.2M377.41,1.5v1.2" stroke="#888" stroke-width="0.5"/>
<path d="M406.31,118.2v-1.2M406.31,1.5v1.2" stroke="#888" stroke-width="0.5"/>
<path d="M435.22,118.2v-1.2M435.22,1.5v1.2" stroke="#888" stroke-width="0.5"/>
<path d="M464.12,118.2v-1.2M464.12,1.5v1.2" stroke="#888" stroke-width="0.5"/>
<path d="M493.03,118.2v-1.2M493.03,1.5v1.2" stroke="#888" stroke-width="0.5"/>
<path d="M348.5,118.20h1.2M496.5,118.20h-1.2" stroke="#888" stroke-width="0.5"/>
<path d="M348.5,98.75h1.2M496.5,98.75h-1.2" stroke="#888" stroke-width="0.5"/>
<path d="M348.5,79.30h1.2M496.5,79.30h-1.2" stroke="#888" stroke-width="0.5"/>
<path d="M348.5,59.85h1.2M496.5,59.85h-1.2" stroke="#888" stroke-width="0.5"/>
<path d="M348.5,40.40h1.2M496.5,40.40h-1.2" stroke="#888" stroke-width="0.5"/>
<path d="M348.5,20.95h1.2M496.5,20.95h-1.2" stroke="#888" stroke-width="0.5"/>
<path d="M348.5,1.50h1.2M496.5,1.50h-1.2" stroke="#888" stroke-width="0.5"/>
<text x="348.50" y="124.10" font-family="'DejaVu Sans', sans-serif" font-size="4.35" font-weight="bold" text-anchor="middle">0</text>
<text x="377.41" y="124.10" font-family="'DejaVu Sans', sans-serif" font-size="4.35" font-weight="bold" text-anchor="middle">50</text>
<text x="406.31" y="124.10" font-family="'DejaVu Sans', sans-serif" font-size="4.35" font-weight="bold" text-anchor="middle">100</text>
<text x="435.22" y="124.10" font-family="'DejaVu Sans', sans-serif" font-size="4.35" font-weight="bold" text-anchor="middle">150</text>
<text x="464.12" y="124.10" font-family="'DejaVu Sans', sans-serif" font-size="4.35" font-weight="bold" text-anchor="middle">200</text>
<text x="493.03" y="124.10" font-family="'DejaVu Sans', sans-serif" font-size="4.35" font-weight="bold" text-anchor="middle">250</text>
<text x="347.10" y="119.80" font-family="'DejaVu Sans', sans-serif" font-size="4.35" font-weight="bold" text-anchor="end">0</text>
<text x="347.10" y="100.35" font-family="'DejaVu Sans', sans-serif" font-size="4.35" font-weight="bold" text-anchor="end">500</text>
<text x="347.10" y="80.90" font-family="'DejaVu Sans', sans-serif" font-size="4.35" font-weight="bold" text-anchor="end">1000</text>
<text x="347.10" y="61.45" font-family="'DejaVu Sans', sans-serif" font-size="4.35" font-weight="bold" text-anchor="end">1500</text>
<text x="347.10" y="42.00" font-family="'DejaVu Sans', sans-serif" font-size="4.35" font-weight="bold" text-anchor="end">2000</text>
<text x="347.10" y="22.55" font-family="'DejaVu Sans', sans-serif" font-size="4.35" font-weight="bold" text-anchor="end">2500</text>
<text x="347.10" y="3.10" font-family="'DejaVu Sans', sans-serif" font-size="4.35" font-weight="bold" text-anchor="end">3000</text>
<text x="422.50" y="130.00" font-family="'DejaVu Sans', sans-serif" font-size="4.9" font-weight="bold" text-anchor="middle">Pixel Intensity</text>
<text x="0" y="0" transform="translate(335.00,59.85) rotate(-90)" font-family="'DejaVu Sans', sans-serif" font-size="4.9" font-weight="bold" text-anchor="middle">Frequency</text>
<path d="M534.7,1.5H682.7" stroke="#9a9a9a" stroke-width="0.9" fill="none"/>
<path d="M534.7,1.5V118.2H682.7" stroke="#9a9a9a" stroke-width="0.9" fill="none"/>
<path d="M534.70,118.20L534.70,118.20L535.28,118.20L535.28,118.20L535.86,118.20L535.86,118.20L536.43,118.20L536.43,118.20L537.01,118.20L537.01,118.20L537.59,118.20L537.59,118.20L538.17,118.20L538.17,118.20L538.75,118.20L538.75,118.20L539.33,118.20L539.33,118.20L539.90,118.20L539.90,118.20L540.48,118.20L540.48,118.20L541.06,118.20L541.06,118.20L541.64,118.20L541.64,118.20L542.22,118.20L542.22,118.20L542.79,118.20L542.79,118.20L543.37,118.20L543.37,118.20L543.95,118.20L543.95,118.20L544.53,118.20L544.53,118.20L545.11,118.20L545.11,118.20L545.68,118.20L545.68,118.20L546.26,118.20L546.26,118.20L546.84,118.20L546.84,117.70L547.42,117.70L547.42,117.84L548.00,117.84L548.00,117.54L548.58,117.54L548.58,117.78L549.15,117.78L549.15,117.59L549.73,117.59L549.73,117.58L550.31,117.58L550.31,117.79L550.89,117.79L550.89,117.22L551.47,117.22L551.47,116.99L552.04,116.99L552.04,117.16L552.62,117.16L552.62,117.25L553.20,117.25L553.20,116.99L553.78,116.99L553.78,117.13L554.36,117.13L554.36,116.79L554.93,116.79L554.93,117.03L555.51,117.03L555.51,117.31L556.09,117.31L556.09,117.47L556.67,117.47L556.67,117.50L557.25,117.50L557.25,117.49L557.83,117.49L557.83,117.67L558.40,117.67L558.40,117.68L558.98,117.68L558.98,117.66L559.56,117.66L559.56,117.71L560.14,117.71L560.14,117.52L560.72,117.52L560.72,117.69L561.29,117.69L561.29,117.73L561.87,117.73L561.87,117.80L562.45,117.80L562.45,117.59L563.03,117.59L563.03,117.65L563.61,117.65L563.61,117.43L564.18,117.43L564.18,117.63L564.76,117.63L564.76,117.41L565.34,117.41L565.34,117.51L565.92,117.51L565.92,117.85L566.50,117.85L566.50,117.41L567.08,117.41L567.08,117.81L567.65,117.81L567.65,117.74L568.23,117.74L568.23,117.66L568.81,117.66L568.81,117.76L569.39,117.76L569.39,117.77L569.97,117.77L569.97,117.84L570.54,117.84L570.54,117.67L571.12,117.67L571.12,117.62L571.70,117.62L571.70,117.62L572.28,117.62L572.28,117.57L572.86,117.57L572.86,117.69L573.43,117.69L573.43,117.27L574.01,117.27L574.01,116.88L574.59,116.88L574.59,114.90L575.17,114.90L575.17,114.27L575.75,114.27L575.75,113.12L576.33,113.12L576.33,109.77L576.90,109.77L576.90,112.36L577.48,112.36L577.48,105.77L578.06,105.77L578.06,106.15L578.64,106.15L578.64,103.93L579.22,103.93L579.22,104.50L579.79,104.50L579.79,99.25L580.37,99.25L580.37,101.38L580.95,101.38L580.95,97.96L581.53,97.96L581.53,97.10L582.11,97.10L582.11,95.03L582.68,95.03L582.68,97.23L583.26,97.23L583.26,96.53L583.84,96.53L583.84,98.94L584.42,98.94L584.42,100.05L585.00,100.05L585.00,102.06L585.58,102.06L585.58,98.37L586.15,98.37L586.15,105.19L586.73,105.19L586.73,106.84L587.31,106.84L587.31,106.68L587.89,106.68L587.89,108.96L588.47,108.96L588.47,109.40L589.04,109.40L589.04,111.89L589.62,111.89L589.62,110.47L590.20,110.47L590.20,110.16L590.78,110.16L590.78,110.31L591.36,110.31L591.36,110.50L591.93,110.50L591.93,110.69L592.51,110.69L592.51,110.08L593.09,110.08L593.09,113.38L593.67,113.38L593.67,109.03L594.25,109.03L594.25,107.19L594.83,107.19L594.83,111.04L595.40,111.04L595.40,111.04L595.98,111.04L595.98,111.63L596.56,111.63L596.56,111.02L597.14,111.02L597.14,111.10L597.72,111.10L597.72,111.65L598.29,111.65L598.29,112.34L598.87,112.34L598.87,110.73L599.45,110.73L599.45,110.75L600.03,110.75L600.03,113.24L600.61,113.24L600.61,111.64L601.18,111.64L601.18,109.92L601.76,109.92L601.76,113.50L602.34,113.50L602.34,111.75L602.92,111.75L602.92,110.19L603.50,110.19L603.50,109.27L604.08,109.27L604.08,110.14L604.65,110.14L604.65,108.15L605.23,108.15L605.23,107.15L605.81,107.15L605.81,106.14L606.39,106.14L606.39,106.26L606.97,106.26L606.97,107.20L607.54,107.20L607.54,104.54L608.12,104.54L608.12,102.47L608.70,102.47L608.70,103.84L609.28,103.84L609.28,102.22L609.86,102.22L609.86,102.12L610.43,102.12L610.43,101.56L611.01,101.56L611.01,99.13L611.59,99.13L611.59,98.23L612.17,98.23L612.17,97.41L612.75,97.41L612.75,95.29L613.33,95.29L613.33,96.34L613.90,96.34L613.90,96.19L614.48,96.19L614.48,93.94L615.06,93.94L615.06,92.56L615.64,92.56L615.64,91.61L616.22,91.61L616.22,89.93L616.79,89.93L616.79,88.47L617.37,88.47L617.37,87.47L617.95,87.47L617.95,85.55L618.53,85.55L618.53,84.55L619.11,84.55L619.11,81.86L619.68,81.86L619.68,82.54L620.26,82.54L620.26,80.77L620.84,80.77L620.84,77.90L621.42,77.90L621.42,74.73L622.00,74.73L622.00,75.33L622.58,75.33L622.58,74.64L623.15,74.64L623.15,70.70L623.73,70.70L623.73,69.06L624.31,69.06L624.31,66.97L624.89,66.97L624.89,65.95L625.47,65.95L625.47,61.86L626.04,61.86L626.04,61.59L626.62,61.59L626.62,58.55L627.20,58.55L627.20,61.38L627.78,61.38L627.78,61.89L628.36,61.89L628.36,63.08L628.93,63.08L628.93,63.35L629.51,63.35L629.51,66.46L630.09,66.46L630.09,69.17L630.67,69.17L630.67,72.42L631.25,72.42L631.25,74.17L631.83,74.17L631.83,74.71L632.40,74.71L632.40,77.51L632.98,77.51L632.98,79.72L633.56,79.72L633.56,80.06L634.14,80.06L634.14,81.32L634.72,81.32L634.72,83.10L635.29,83.10L635.29,86.19L635.87,86.19L635.87,87.65L636.45,87.65L636.45,87.79L637.03,87.79L637.03,88.66L637.61,88.66L637.61,86.87L638.18,86.87L638.18,85.73L638.76,85.73L638.76,87.08L639.34,87.08L639.34,83.56L639.92,83.56L639.92,78.04L640.50,78.04L640.50,75.11L641.08,75.11L641.08,71.75L641.65,71.75L641.65,65.73L642.23,65.73L642.23,61.24L642.81,61.24L642.81,57.05L643.39,57.05L643.39,49.63L643.97,49.63L643.97,47.25L644.54,47.25L644.54,42.99L645.12,42.99L645.12,36.31L645.70,36.31L645.70,26.40L646.28,26.40L646.28,23.24L646.86,23.24L646.86,16.49L647.43,16.49L647.43,6.27L648.01,6.27L648.01,1.50L648.59,1.50L648.59,1.50L649.17,1.50L649.17,1.50L649.75,1.50L649.75,1.50L650.33,1.50L650.33,1.50L650.90,1.50L650.90,1.50L651.48,1.50L651.48,1.50L652.06,1.50L652.06,1.50L652.64,1.50L652.64,1.50L653.22,1.50L653.22,2.63L653.79,2.63L653.79,1.50L654.37,1.50L654.37,2.36L654.95,2.36L654.95,1.50L655.53,1.50L655.53,1.50L656.11,1.50L656.11,1.50L656.68,1.50L656.68,1.50L657.26,1.50L657.26,1.50L657.84,1.50L657.84,1.50L658.42,1.50L658.42,1.50L659.00,1.50L659.00,1.50L659.58,1.50L659.58,1.50L660.15,1.50L660.15,1.50L660.73,1.50L660.73,1.50L661.31,1.50L661.31,1.50L661.89,1.50L661.89,1.50L662.47,1.50L662.47,1.50L663.04,1.50L663.04,107.84L663.62,107.84L663.62,112.67L664.20,112.67L664.20,115.30L664.78,115.30L664.78,117.63L665.36,117.63L665.36,118.20L665.93,118.20L665.93,118.20L666.51,118.20L666.51,118.20L667.09,118.20L667.09,118.20L667.67,118.20L667.67,118.20L668.25,118.20L668.25,118.20L668.83,118.20L668.83,118.20L669.40,118.20L669.40,118.20L669.98,118.20L669.98,118.20L670.56,118.20L670.56,118.20L671.14,118.20L671.14,118.20L671.72,118.20L671.72,118.20L672.29,118.20L672.29,118.20L672.87,118.20L672.87,118.20L673.45,118.20L673.45,118.20L674.03,118.20L674.03,118.20L674.61,118.20L674.61,118.20L675.18,118.20L675.18,118.20L675.76,118.20L675.76,118.20L676.34,118.20L676.34,118.20L676.92,118.20L676.92,118.20L677.50,118.20L677.50,118.20L678.08,118.20L678.08,118.20L678.65,118.20L678.65,118.20L679.23,118.20L679.23,118.20L679.81,118.20L679.81,118.20L680.39,118.20L680.39,118.20L680.97,118.20L680.97,118.20L681.54,118.20L681.54,118.20L682.12,118.20L682.12,118.20L682.70,118.20L682.70,118.20Z" fill="#0000ff"/>
<path d="M534.70,118.2v-1.2M534.70,1.5v1.2" stroke="#888" stroke-width="0.5"/>
<path d="M563.61,118.2v-1.2M563.61,1.5v1.2" stroke="#888" stroke-width="0.5"/>
<path d="M592.51,118.2v-1.2M592.51,1.5v1.2" stroke="#888" stroke-width="0.5"/>
<path d="M621.42,118.2v-1.2M621.42,1.5v1.2" stroke="#888" stroke-width="0.5"/>
<path d="M650.33,118.2v-1.2M650.33,1.5v1.2" stroke="#888" stroke-width="0.5"/>
<path d="M679.23,118.2v-1.2M679.23,1.5v1.2" stroke="#888" stroke-width="0.5"/>
<path d="M534.7,118.20h1.2M682.7,118.20h-1.2" stroke="#888" stroke-width="0.5"/>
<path d="M534.7,98.75h1.2M682.7,98.75h-1.2" stroke="#888" stroke-width="0.5"/>
<path d="M534.7,79.30h1.2M682.7,79.30h-1.2" stroke="#888" stroke-width="0.5"/>
<path d="M534.7,59.85h1.2M682.7,59.85h-1.2" stroke="#888" stroke-width="0.5"/>
<path d="M534.7,40.40h1.2M682.7,40.40h-1.2" stroke="#888" stroke-width="0.5"/>
<path d="M534.7,20.95h1.2M682.7,20.95h-1.2" stroke="#888" stroke-width="0.5"/>
<path d="M534.7,1.50h1.2M682.7,1.50h-1.2" stroke="#888" stroke-width="0.5"/>
<text x="534.70" y="124.10" font-family="'DejaVu Sans', sans-serif" font-size="4.35" font-weight="bold" text-anchor="middle">0</text>
<text x="563.61" y="124.10" font-family="'DejaVu Sans', sans-serif" font-size="4.35" font-weight="bold" text-anchor="middle">50</text>
<text x="592.51" y="124.10" font-family="'DejaVu Sans', sans-serif" font-size="4.35" font-weight="bold" text-anchor="middle">100</text>
<text x="621.42" y="124.10" font-family="'DejaVu Sans', sans-serif" font-size="4.35" font-weight="bold" text-anchor="middle">150</text>
<text x="650.33" y="124.10" font-family="'DejaVu Sans', sans-serif" font-size="4.35" font-weight="bold" text-anchor="middle">200</text>
<text x="679.23" y="124.10" font-family="'DejaVu Sans', sans-serif" font-size="4.35" font-weight="bold" text-anchor="middle">250</text>
<text x="533.30" y="119.80" font-family="'DejaVu Sans', sans-serif" font-size="4.35" font-weight="bold" text-anchor="end">0</text>
<text x="533.30" y="100.35" font-family="'DejaVu Sans', sans-serif" font-size="4.35" font-weight="bold" text-anchor="end">500</text>
<text x="533.30" y="80.90" font-family="'DejaVu Sans', sans-serif" font-size="4.35" font-weight="bold" text-anchor="end">1000</text>
<text x="533.30" y="61.45" font-family="'DejaVu Sans', sans-serif" font-size="4.35" font-weight="bold" text-anchor="end">1500</text>
<text x="533.30" y="42.00" font-family="'DejaVu Sans', sans-serif" font-size="4.35" font-weight="bold" text-anchor="end">2000</text>
<text x="533.30" y="22.55" font-family="'DejaVu Sans', sans-serif" font-size="4.35" font-weight="bold" text-anchor="end">2500</text>
<text x="533.30" y="3.10" font-family="'DejaVu Sans', sans-serif" font-size="4.35" font-weight="bold" text-anchor="end">3000</text>
<text x="608.70" y="130.00" font-family="'DejaVu Sans', sans-serif" font-size="4.9" font-weight="bold" text-anchor="middle">Pixel Intensity</text>
<text x="0" y="0" transform="translate(521.20,59.85) rotate(-90)" font-family="'DejaVu Sans', sans-serif" font-size="4.9" font-weight="bold" text-anchor="middle">Frequency</text>
<path d="M158.3,185.4H311.5" stroke="#a0a0a0" stroke-width="0.9" fill="none"/>
<path d="M158.3,185.4V304.6H311.5" stroke="#a0a0a0" stroke-width="0.9" fill="none"/>
<path d="M158.30,304.60L158.30,263.86L158.90,263.86L158.90,263.32L159.50,263.32L159.50,264.50L160.10,264.50L160.10,263.46L160.69,263.46L160.69,262.74L161.29,262.74L161.29,263.39L161.89,263.39L161.89,261.93L162.49,261.93L162.49,265.04L163.09,265.04L163.09,263.83L163.69,263.83L163.69,264.81L164.28,264.81L164.28,264.91L164.88,264.91L164.88,264.15L165.48,264.15L165.48,263.63L166.08,263.63L166.08,263.38L166.68,263.38L166.68,263.27L167.28,263.27L167.28,261.07L167.88,261.07L167.88,262.82L168.47,262.82L168.47,265.94L169.07,265.94L169.07,263.65L169.67,263.65L169.67,264.71L170.27,264.71L170.27,264.57L170.87,264.57L170.87,262.25L171.47,262.25L171.47,264.20L172.06,264.20L172.06,266.39L172.66,266.39L172.66,263.52L173.26,263.52L173.26,264.28L173.86,264.28L173.86,265.41L174.46,265.41L174.46,265.08L175.06,265.08L175.06,264.71L175.65,264.71L175.65,263.94L176.25,263.94L176.25,264.46L176.85,264.46L176.85,263.82L177.45,263.82L177.45,261.58L178.05,261.58L178.05,264.93L178.65,264.93L178.65,264.94L179.25,264.94L179.25,264.23L179.84,264.23L179.84,262.52L180.44,262.52L180.44,264.81L181.04,264.81L181.04,262.09L181.64,262.09L181.64,265.58L182.24,265.58L182.24,265.23L182.84,265.23L182.84,263.98L183.43,263.98L183.43,265.01L184.03,265.01L184.03,264.70L184.63,264.70L184.63,263.34L185.23,263.34L185.23,262.99L185.83,262.99L185.83,263.77L186.43,263.77L186.43,264.26L187.03,264.26L187.03,262.20L187.62,262.20L187.62,263.40L188.22,263.40L188.22,264.21L188.82,264.21L188.82,262.37L189.42,262.37L189.42,265.06L190.02,265.06L190.02,263.70L190.62,263.70L190.62,263.07L191.21,263.07L191.21,263.93L191.81,263.93L191.81,264.64L192.41,264.64L192.41,263.47L193.01,263.47L193.01,264.60L193.61,264.60L193.61,264.67L194.21,264.67L194.21,265.21L194.80,265.21L194.80,262.25L195.40,262.25L195.40,264.61L196.00,264.61L196.00,262.44L196.60,262.44L196.60,263.43L197.20,263.43L197.20,264.24L197.80,264.24L197.80,263.06L198.40,263.06L198.40,263.57L198.99,263.57L198.99,263.75L199.59,263.75L199.59,265.66L200.19,265.66L200.19,263.82L200.79,263.82L200.79,262.78L201.39,262.78L201.39,263.29L201.99,263.29L201.99,262.65L202.58,262.65L202.58,262.02L203.18,262.02L203.18,263.39L203.78,263.39L203.78,261.40L204.38,261.40L204.38,265.84L204.98,265.84L204.98,264.22L205.58,264.22L205.58,267.12L206.18,267.12L206.18,262.87L206.77,262.87L206.77,263.79L207.37,263.79L207.37,261.77L207.97,261.77L207.97,264.38L208.57,264.38L208.57,266.49L209.17,266.49L209.17,262.29L209.77,262.29L209.77,265.62L210.36,265.62L210.36,265.53L210.96,265.53L210.96,264.14L211.56,264.14L211.56,263.11L212.16,263.11L212.16,264.56L212.76,264.56L212.76,263.68L213.36,263.68L213.36,266.30L213.95,266.30L213.95,261.71L214.55,261.71L214.55,264.00L215.15,264.00L215.15,263.76L215.75,263.76L215.75,263.17L216.35,263.17L216.35,263.70L216.95,263.70L216.95,263.66L217.55,263.66L217.55,265.09L218.14,265.09L218.14,264.06L218.74,264.06L218.74,263.36L219.34,263.36L219.34,262.59L219.94,262.59L219.94,264.07L220.54,264.07L220.54,263.80L221.14,263.80L221.14,263.48L221.73,263.48L221.73,263.19L222.33,263.19L222.33,263.65L222.93,263.65L222.93,264.23L223.53,264.23L223.53,264.56L224.13,264.56L224.13,262.48L224.73,262.48L224.73,263.54L225.32,263.54L225.32,263.89L225.92,263.89L225.92,259.49L226.52,259.49L226.52,262.79L227.12,262.79L227.12,262.83L227.72,262.83L227.72,263.72L228.32,263.72L228.32,265.20L228.92,265.20L228.92,262.47L229.51,262.47L229.51,264.03L230.11,264.03L230.11,263.85L230.71,263.85L230.71,262.61L231.31,262.61L231.31,262.62L231.91,262.62L231.91,263.61L232.51,263.61L232.51,263.89L233.10,263.89L233.10,261.25L233.70,261.25L233.70,263.18L234.30,263.18L234.30,265.22L234.90,265.22L234.90,262.96L235.50,262.96L235.50,263.72L236.10,263.72L236.10,263.87L236.70,263.87L236.70,263.05L237.29,263.05L237.29,263.61L237.89,263.61L237.89,261.36L238.49,261.36L238.49,263.65L239.09,263.65L239.09,263.59L239.69,263.59L239.69,262.44L240.29,262.44L240.29,264.63L240.88,264.63L240.88,262.62L241.48,262.62L241.48,263.99L242.08,263.99L242.08,262.41L242.68,262.41L242.68,264.99L243.28,264.99L243.28,263.38L243.88,263.38L243.88,265.95L244.47,265.95L244.48,264.47L245.07,264.47L245.07,263.89L245.67,263.89L245.67,263.28L246.27,263.28L246.27,261.40L246.87,261.40L246.87,261.58L247.47,261.58L247.47,265.62L248.07,265.62L248.07,264.88L248.66,264.88L248.66,262.32L249.26,262.32L249.26,263.35L249.86,263.35L249.86,265.65L250.46,265.65L250.46,263.30L251.06,263.30L251.06,265.34L251.66,265.34L251.66,265.00L252.25,265.00L252.25,265.51L252.85,265.51L252.85,264.24L253.45,264.24L253.45,261.05L254.05,261.05L254.05,263.43L254.65,263.43L254.65,264.05L255.25,264.05L255.25,260.72L255.85,260.72L255.85,264.50L256.44,264.50L256.44,264.10L257.04,264.10L257.04,264.25L257.64,264.25L257.64,263.38L258.24,263.38L258.24,264.31L258.84,264.31L258.84,262.06L259.44,262.06L259.44,264.28L260.03,264.28L260.03,263.20L260.63,263.20L260.63,263.63L261.23,263.63L261.23,265.00L261.83,265.00L261.83,265.15L262.43,265.15L262.43,263.98L263.03,263.98L263.03,266.83L263.62,266.83L263.62,263.89L264.22,263.89L264.22,263.81L264.82,263.81L264.82,263.73L265.42,263.73L265.42,264.01L266.02,264.01L266.02,263.46L266.62,263.46L266.62,264.36L267.22,264.36L267.22,263.10L267.81,263.10L267.81,265.98L268.41,265.98L268.41,262.76L269.01,262.76L269.01,265.03L269.61,265.03L269.61,263.30L270.21,263.30L270.21,264.50L270.81,264.50L270.81,264.45L271.40,264.45L271.40,264.92L272.00,264.92L272.00,262.21L272.60,262.21L272.60,265.29L273.20,265.29L273.20,265.44L273.80,265.44L273.80,263.64L274.40,263.64L274.40,263.58L275.00,263.58L275.00,263.86L275.59,263.86L275.59,265.13L276.19,265.13L276.19,264.74L276.79,264.74L276.79,262.76L277.39,262.76L277.39,265.22L277.99,265.22L277.99,263.14L278.59,263.14L278.59,262.99L279.18,262.99L279.18,263.74L279.78,263.74L279.78,265.45L280.38,265.45L280.38,261.49L280.98,261.49L280.98,263.75L281.58,263.75L281.58,263.66L282.18,263.66L282.18,264.39L282.77,264.39L282.77,265.11L283.37,265.11L283.37,264.25L283.97,264.25L283.97,263.66L284.57,263.66L284.57,264.98L285.17,264.98L285.17,263.76L285.77,263.76L285.77,262.45L286.37,262.45L286.37,263.36L286.96,263.36L286.96,264.03L287.56,264.03L287.56,262.58L288.16,262.58L288.16,262.75L288.76,262.75L288.76,262.77L289.36,262.77L289.36,264.92L289.96,264.92L289.96,266.21L290.55,266.21L290.55,262.90L291.15,262.90L291.15,263.83L291.75,263.83L291.75,264.38L292.35,264.38L292.35,263.30L292.95,263.30L292.95,264.48L293.55,264.48L293.55,264.69L294.15,264.69L294.15,261.62L294.74,261.62L294.74,265.92L295.34,265.92L295.34,262.85L295.94,262.85L295.94,262.63L296.54,262.63L296.54,261.66L297.14,261.66L297.14,263.59L297.74,263.59L297.74,263.27L298.33,263.27L298.33,265.07L298.93,265.07L298.93,263.87L299.53,263.87L299.53,266.57L300.13,266.57L300.13,264.63L300.73,264.63L300.73,263.95L301.33,263.95L301.33,264.04L301.93,264.04L301.93,264.52L302.52,264.52L302.52,262.44L303.12,262.44L303.12,265.92L303.72,265.92L303.72,263.74L304.32,263.74L304.32,264.42L304.92,264.42L304.92,263.86L305.52,263.86L305.52,263.84L306.11,263.84L306.11,261.45L306.71,261.45L306.71,265.26L307.31,265.26L307.31,262.21L307.91,262.21L307.91,262.14L308.51,262.14L308.51,264.07L309.11,264.07L309.11,264.69L309.70,264.69L309.70,265.48L310.30,265.48L310.30,265.00L310.90,265.00L310.90,261.32L311.50,261.32L311.50,304.60Z" fill="#ff0000"/>
<path d="M311.5,185.4V304.6" stroke="#c8c8c8" stroke-width="0.9" fill="none"/>
<path d="M158.30,304.6v-1.2M158.30,185.4v1.2" stroke="#888" stroke-width="0.5"/>
<path d="M188.22,304.6v-1.2M188.22,185.4v1.2" stroke="#888" stroke-width="0.5"/>
<path d="M218.14,304.6v-1.2M218.14,185.4v1.2" stroke="#888" stroke-width="0.5"/>
<path d="M248.07,304.6v-1.2M248.07,185.4v1.2" stroke="#888" stroke-width="0.5"/>
<path d="M277.99,304.6v-1.2M277.99,185.4v1.2" stroke="#888" stroke-width="0.5"/>
<path d="M307.91,304.6v-1.2M307.91,185.4v1.2" stroke="#888" stroke-width="0.5"/>
<path d="M158.3,304.60h1.2M311.5,304.60h-1.2" stroke="#888" stroke-width="0.5"/>
<path d="M158.3,284.73h1.2M311.5,284.73h-1.2" stroke="#888" stroke-width="0.5"/>
<path d="M158.3,264.87h1.2M311.5,264.87h-1.2" stroke="#888" stroke-width="0.5"/>
<path d="M158.3,245.00h1.2M311.5,245.00h-1.2" stroke="#888" stroke-width="0.5"/>
<path d="M158.3,225.13h1.2M311.5,225.13h-1.2" stroke="#888" stroke-width="0.5"/>
<path d="M158.3,205.27h1.2M311.5,205.27h-1.2" stroke="#888" stroke-width="0.5"/>
<path d="M158.3,185.40h1.2M311.5,185.40h-1.2" stroke="#888" stroke-width="0.5"/>
<text x="158.30" y="309.90" font-family="'DejaVu Sans', sans-serif" font-size="3.85" font-weight="bold" text-anchor="middle">0</text>
<text x="188.22" y="309.90" font-family="'DejaVu Sans', sans-serif" font-size="3.85" font-weight="bold" text-anchor="middle">50</text>
<text x="218.14" y="309.90" font-family="'DejaVu Sans', sans-serif" font-size="3.85" font-weight="bold" text-anchor="middle">100</text>
<text x="248.07" y="309.90" font-family="'DejaVu Sans', sans-serif" font-size="3.85" font-weight="bold" text-anchor="middle">150</text>
<text x="277.99" y="309.90" font-family="'DejaVu Sans', sans-serif" font-size="3.85" font-weight="bold" text-anchor="middle">200</text>
<text x="307.91" y="309.90" font-family="'DejaVu Sans', sans-serif" font-size="3.85" font-weight="bold" text-anchor="middle">250</text>
<text x="156.90" y="306.00" font-family="'DejaVu Sans', sans-serif" font-size="3.85" font-weight="bold" text-anchor="end">0</text>
<text x="156.90" y="286.13" font-family="'DejaVu Sans', sans-serif" font-size="3.85" font-weight="bold" text-anchor="end">500</text>
<text x="156.90" y="266.27" font-family="'DejaVu Sans', sans-serif" font-size="3.85" font-weight="bold" text-anchor="end">1000</text>
<text x="156.90" y="246.40" font-family="'DejaVu Sans', sans-serif" font-size="3.85" font-weight="bold" text-anchor="end">1500</text>
<text x="156.90" y="226.53" font-family="'DejaVu Sans', sans-serif" font-size="3.85" font-weight="bold" text-anchor="end">2000</text>
<text x="156.90" y="206.67" font-family="'DejaVu Sans', sans-serif" font-size="3.85" font-weight="bold" text-anchor="end">2500</text>
<text x="156.90" y="186.80" font-family="'DejaVu Sans', sans-serif" font-size="3.85" font-weight="bold" text-anchor="end">3000</text>
<text x="234.90" y="314.80" font-family="'DejaVu Sans', sans-serif" font-size="4.05" font-weight="bold" text-anchor="middle">Pixel Intensity</text>
<text x="0" y="0" transform="translate(144.00,245.00) rotate(-90)" font-family="'DejaVu Sans', sans-serif" font-size="4.05" font-weight="bold" text-anchor="middle">Frequency</text>
<path d="M348.7,185.4H496.5" stroke="#bcbcbc" stroke-width="0.9" fill="none"/>
<path d="M348.7,185.4V301.2H496.5" stroke="#bcbcbc" stroke-width="0.9" fill="none"/>
<path d="M348.70,301.20L348.70,263.13L349.28,263.13L349.28,263.09L349.85,263.09L349.85,260.85L350.43,260.85L350.43,264.51L351.01,264.51L351.01,261.85L351.59,261.85L351.59,264.46L352.16,264.46L352.16,260.31L352.74,260.31L352.74,261.42L353.32,261.42L353.32,260.00L353.90,260.00L353.90,262.30L354.47,262.30L354.47,261.18L355.05,261.18L355.05,262.03L355.63,262.03L355.63,262.59L356.21,262.59L356.21,261.49L356.78,261.49L356.78,263.23L357.36,263.23L357.36,262.11L357.94,262.11L357.94,260.81L358.51,260.81L358.51,261.60L359.09,261.60L359.09,262.18L359.67,262.18L359.67,258.97L360.25,258.97L360.25,261.60L360.82,261.60L360.82,262.40L361.40,262.40L361.40,261.48L361.98,261.48L361.98,262.32L362.56,262.32L362.56,262.15L363.13,262.15L363.13,262.11L363.71,262.11L363.71,259.17L364.29,259.17L364.29,261.65L364.87,261.65L364.87,261.46L365.44,261.46L365.44,260.84L366.02,260.84L366.02,259.18L366.60,259.18L366.60,261.95L367.18,261.95L367.18,262.44L367.75,262.44L367.75,258.62L368.33,258.62L368.33,263.48L368.91,263.48L368.91,262.13L369.48,262.13L369.48,260.85L370.06,260.85L370.06,258.85L370.64,258.85L370.64,262.85L371.22,262.85L371.22,264.67L371.79,264.67L371.79,260.86L372.37,260.86L372.37,262.32L372.95,262.32L372.95,262.15L373.53,262.15L373.53,261.10L374.10,261.10L374.10,261.40L374.68,261.40L374.68,261.31L375.26,261.31L375.26,262.21L375.84,262.21L375.84,260.08L376.41,260.08L376.41,259.81L376.99,259.81L376.99,261.63L377.57,261.63L377.57,262.23L378.14,262.23L378.14,260.77L378.72,260.77L378.72,261.08L379.30,261.08L379.30,262.96L379.88,262.96L379.88,262.24L380.45,262.24L380.45,260.38L381.03,260.38L381.03,261.79L381.61,261.79L381.61,262.08L382.19,262.08L382.19,261.41L382.76,261.41L382.76,261.71L383.34,261.71L383.34,261.68L383.92,261.68L383.92,264.06L384.50,264.06L384.50,259.51L385.07,259.51L385.07,261.43L385.65,261.43L385.65,262.76L386.23,262.76L386.23,260.46L386.80,260.46L386.80,261.29L387.38,261.29L387.38,261.65L387.96,261.65L387.96,260.38L388.54,260.38L388.54,258.88L389.11,258.88L389.11,260.99L389.69,260.99L389.69,259.72L390.27,259.72L390.27,259.01L390.85,259.01L390.85,262.93L391.42,262.93L391.42,262.32L392.00,262.32L392.00,260.71L392.58,260.71L392.58,263.78L393.16,263.78L393.16,262.00L393.73,262.00L393.73,260.08L394.31,260.08L394.31,260.39L394.89,260.39L394.89,260.96L395.46,260.96L395.46,264.01L396.04,264.01L396.04,258.77L396.62,258.77L396.62,260.99L397.20,260.99L397.20,260.73L397.77,260.73L397.77,261.06L398.35,261.06L398.35,263.79L398.93,263.79L398.93,263.45L399.51,263.45L399.51,263.18L400.08,263.18L400.08,259.30L400.66,259.30L400.66,262.70L401.24,262.70L401.24,261.97L401.82,261.97L401.82,261.99L402.39,261.99L402.39,260.97L402.97,260.97L402.97,261.06L403.55,261.06L403.55,261.34L404.12,261.34L404.12,263.23L404.70,263.23L404.70,265.55L405.28,265.55L405.28,261.47L405.86,261.47L405.86,261.34L406.43,261.34L406.43,260.15L407.01,260.15L407.01,261.80L407.59,261.80L407.59,262.43L408.17,262.43L408.17,261.17L408.74,261.17L408.74,263.59L409.32,263.59L409.32,262.96L409.90,262.96L409.90,262.92L410.48,262.92L410.48,261.32L411.05,261.32L411.05,259.09L411.63,259.09L411.63,260.73L412.21,260.73L412.21,260.26L412.79,260.26L412.79,261.38L413.36,261.38L413.36,261.33L413.94,261.33L413.94,262.23L414.52,262.23L414.52,262.02L415.09,262.02L415.09,264.67L415.67,264.67L415.67,263.16L416.25,263.16L416.25,263.26L416.83,263.26L416.83,260.64L417.40,260.64L417.40,260.85L417.98,260.85L417.98,260.26L418.56,260.26L418.56,259.75L419.14,259.75L419.14,262.05L419.71,262.05L419.71,260.37L420.29,260.37L420.29,259.26L420.87,259.26L420.87,261.68L421.45,261.68L421.45,260.33L422.02,260.33L422.02,261.88L422.60,261.88L422.60,263.67L423.18,263.67L423.18,261.53L423.75,261.53L423.75,262.69L424.33,262.69L424.33,261.54L424.91,261.54L424.91,262.25L425.49,262.25L425.49,261.28L426.06,261.28L426.06,264.31L426.64,264.31L426.64,259.10L427.22,259.10L427.22,259.99L427.80,259.99L427.80,262.11L428.37,262.11L428.37,262.80L428.95,262.80L428.95,261.67L429.53,261.67L429.53,260.84L430.11,260.84L430.11,261.15L430.68,261.15L430.68,261.18L431.26,261.18L431.26,264.11L431.84,264.11L431.84,263.07L432.41,263.07L432.41,260.01L432.99,260.01L432.99,261.38L433.57,261.38L433.57,263.55L434.15,263.55L434.15,262.75L434.72,262.75L434.72,263.46L435.30,263.46L435.30,262.93L435.88,262.93L435.88,260.21L436.46,260.21L436.46,261.95L437.03,261.95L437.03,260.28L437.61,260.28L437.61,261.44L438.19,261.44L438.19,263.55L438.77,263.55L438.77,262.48L439.34,262.48L439.34,258.81L439.92,258.81L439.92,262.63L440.50,262.63L440.50,262.99L441.07,262.99L441.07,260.12L441.65,260.12L441.65,261.56L442.23,261.56L442.23,261.68L442.81,261.68L442.81,259.83L443.38,259.83L443.38,263.89L443.96,263.89L443.96,261.15L444.54,261.15L444.54,263.00L445.12,263.00L445.12,263.44L445.69,263.44L445.69,262.70L446.27,262.70L446.27,260.22L446.85,260.22L446.85,261.85L447.43,261.85L447.43,263.99L448.00,263.99L448.00,263.07L448.58,263.07L448.58,259.75L449.16,259.75L449.16,260.38L449.74,260.38L449.74,263.05L450.31,263.05L450.31,258.62L450.89,258.62L450.89,262.14L451.47,262.14L451.47,263.18L452.04,263.18L452.04,261.85L452.62,261.85L452.62,260.49L453.20,260.49L453.20,259.64L453.78,259.64L453.78,260.37L454.35,260.37L454.35,262.21L454.93,262.21L454.93,262.38L455.51,262.38L455.51,263.51L456.09,263.51L456.09,261.77L456.66,261.77L456.66,262.43L457.24,262.43L457.24,261.36L457.82,261.36L457.82,263.27L458.40,263.27L458.40,262.33L458.97,262.33L458.97,262.79L459.55,262.79L459.55,263.19L460.13,263.19L460.13,263.17L460.70,263.17L460.70,262.96L461.28,262.96L461.28,263.17L461.86,263.17L461.86,260.96L462.44,260.96L462.44,261.55L463.01,261.55L463.01,263.34L463.59,263.34L463.59,261.03L464.17,261.03L464.17,261.31L464.75,261.31L464.75,259.83L465.32,259.83L465.32,261.92L465.90,261.92L465.90,261.94L466.48,261.94L466.48,262.54L467.06,262.54L467.06,261.52L467.63,261.52L467.63,261.05L468.21,261.05L468.21,261.45L468.79,261.45L468.79,261.99L469.36,261.99L469.36,260.96L469.94,260.96L469.94,261.56L470.52,261.56L470.52,261.36L471.10,261.36L471.10,262.85L471.67,262.85L471.67,261.41L472.25,261.41L472.25,262.93L472.83,262.93L472.83,262.74L473.41,262.74L473.41,261.47L473.98,261.47L473.98,259.01L474.56,259.01L474.56,260.41L475.14,260.41L475.14,261.67L475.72,261.67L475.72,261.90L476.29,261.90L476.29,260.42L476.87,260.42L476.87,259.93L477.45,259.93L477.45,260.13L478.03,260.13L478.02,261.91L478.60,261.91L478.60,261.44L479.18,261.44L479.18,262.09L479.76,262.09L479.76,262.03L480.33,262.03L480.33,262.75L480.91,262.75L480.91,261.99L481.49,261.99L481.49,264.39L482.07,264.39L482.07,263.19L482.64,263.19L482.64,261.14L483.22,261.14L483.22,262.84L483.80,262.84L483.80,260.99L484.38,260.99L484.38,263.31L484.95,263.31L484.95,262.14L485.53,262.14L485.53,261.17L486.11,261.17L486.11,262.98L486.69,262.98L486.69,262.58L487.26,262.58L487.26,258.55L487.84,258.55L487.84,262.53L488.42,262.53L488.42,262.57L488.99,262.57L488.99,262.40L489.57,262.40L489.57,261.63L490.15,261.63L490.15,261.71L490.73,261.71L490.73,260.43L491.30,260.43L491.30,260.67L491.88,260.67L491.88,262.18L492.46,262.18L492.46,262.12L493.04,262.12L493.04,263.46L493.61,263.46L493.61,263.56L494.19,263.56L494.19,262.61L494.77,262.61L494.77,260.75L495.35,260.75L495.35,261.52L495.92,261.52L495.92,260.66L496.50,260.66L496.50,301.20Z" fill="#00ff00"/>
<path d="M348.70,301.2v-1.2M348.70,185.4v1.2" stroke="#888" stroke-width="0.5"/>
<path d="M377.57,301.2v-1.2M377.57,185.4v1.2" stroke="#888" stroke-width="0.5"/>
<path d="M406.43,301.2v-1.2M406.43,185.4v1.2" stroke="#888" stroke-width="0.5"/>
<path d="M435.30,301.2v-1.2M435.30,185.4v1.2" stroke="#888" stroke-width="0.5"/>
<path d="M464.17,301.2v-1.2M464.17,185.4v1.2" stroke="#888" stroke-width="0.5"/>
<path d="M493.04,301.2v-1.2M493.04,185.4v1.2" stroke="#888" stroke-width="0.5"/>
<path d="M348.7,301.20h1.2M496.5,301.20h-1.2" stroke="#888" stroke-width="0.5"/>
<path d="M348.7,281.90h1.2M496.5,281.90h-1.2" stroke="#888" stroke-width="0.5"/>
<path d="M348.7,262.60h1.2M496.5,262.60h-1.2" stroke="#888" stroke-width="0.5"/>
<path d="M348.7,243.30h1.2M496.5,243.30h-1.2" stroke="#888" stroke-width="0.5"/>
<path d="M348.7,224.00h1.2M496.5,224.00h-1.2" stroke="#888" stroke-width="0.5"/>
<path d="M348.7,204.70h1.2M496.5,204.70h-1.2" stroke="#888" stroke-width="0.5"/>
<path d="M348.7,185.40h1.2M496.5,185.40h-1.2" stroke="#888" stroke-width="0.5"/>
<text x="348.70" y="307.20" font-family="'DejaVu Sans', sans-serif" font-size="4.35" font-weight="bold" text-anchor="middle">0</text>
<text x="377.57" y="307.20" font-family="'DejaVu Sans', sans-serif" font-size="4.35" font-weight="bold" text-anchor="middle">50</text>
<text x="406.43" y="307.20" font-family="'DejaVu Sans', sans-serif" font-size="4.35" font-weight="bold" text-anchor="middle">100</text>
<text x="435.30" y="307.20" font-family="'DejaVu Sans', sans-serif" font-size="4.35" font-weight="bold" text-anchor="middle">150</text>
<text x="464.17" y="307.20" font-family="'DejaVu Sans', sans-serif" font-size="4.35" font-weight="bold" text-anchor="middle">200</text>
<text x="493.04" y="307.20" font-family="'DejaVu Sans', sans-serif" font-size="4.35" font-weight="bold" text-anchor="middle">250</text>
<text x="347.30" y="302.80" font-family="'DejaVu Sans', sans-serif" font-size="4.35" font-weight="bold" text-anchor="end">0</text>
<text x="347.30" y="283.50" font-family="'DejaVu Sans', sans-serif" font-size="4.35" font-weight="bold" text-anchor="end">500</text>
<text x="347.30" y="264.20" font-family="'DejaVu Sans', sans-serif" font-size="4.35" font-weight="bold" text-anchor="end">1000</text>
<text x="347.30" y="244.90" font-family="'DejaVu Sans', sans-serif" font-size="4.35" font-weight="bold" text-anchor="end">1500</text>
<text x="347.30" y="225.60" font-family="'DejaVu Sans', sans-serif" font-size="4.35" font-weight="bold" text-anchor="end">2000</text>
<text x="347.30" y="206.30" font-family="'DejaVu Sans', sans-serif" font-size="4.35" font-weight="bold" text-anchor="end">2500</text>
<text x="347.30" y="187.00" font-family="'DejaVu Sans', sans-serif" font-size="4.35" font-weight="bold" text-anchor="end">3000</text>
<text x="422.60" y="313.00" font-family="'DejaVu Sans', sans-serif" font-size="4.9" font-weight="bold" text-anchor="middle">Pixel Intensity</text>
<text x="0" y="0" transform="translate(335.40,243.30) rotate(-90)" font-family="'DejaVu Sans', sans-serif" font-size="4.9" font-weight="bold" text-anchor="middle">Frequency</text>
<path d="M534.8,185.4H682.6" stroke="#bcbcbc" stroke-width="0.9" fill="none"/>
<path d="M534.8,185.4V301.2H682.6" stroke="#bcbcbc" stroke-width="0.9" fill="none"/>
<path d="M534.80,301.20L534.80,261.06L535.38,261.06L535.38,263.88L535.95,263.88L535.95,262.63L536.53,262.63L536.53,261.58L537.11,261.58L537.11,259.85L537.69,259.85L537.69,261.67L538.26,261.67L538.26,263.72L538.84,263.72L538.84,261.29L539.42,261.29L539.42,263.15L540.00,263.15L540.00,260.16L540.57,260.16L540.57,261.99L541.15,261.99L541.15,259.47L541.73,259.47L541.73,261.84L542.31,261.84L542.31,262.94L542.88,262.94L542.88,263.49L543.46,263.49L543.46,262.12L544.04,262.12L544.04,261.12L544.61,261.12L544.61,260.20L545.19,260.20L545.19,261.34L545.77,261.34L545.77,262.59L546.35,262.59L546.35,261.06L546.92,261.06L546.92,263.45L547.50,263.45L547.50,261.05L548.08,261.05L548.08,262.60L548.66,262.60L548.66,259.83L549.23,259.83L549.23,260.45L549.81,260.45L549.81,261.22L550.39,261.22L550.39,262.94L550.97,262.94L550.97,260.99L551.54,260.99L551.54,261.22L552.12,261.22L552.12,262.35L552.70,262.35L552.70,262.44L553.27,262.44L553.27,260.10L553.85,260.10L553.85,262.17L554.43,262.17L554.43,261.13L555.01,261.13L555.01,259.96L555.58,259.96L555.58,263.51L556.16,263.51L556.16,259.47L556.74,259.47L556.74,260.42L557.32,260.42L557.32,262.47L557.89,262.47L557.89,262.85L558.47,262.85L558.47,263.18L559.05,263.18L559.05,260.52L559.63,260.52L559.63,264.85L560.20,264.85L560.20,260.52L560.78,260.52L560.78,261.47L561.36,261.47L561.36,262.52L561.94,262.52L561.94,262.30L562.51,262.30L562.51,262.13L563.09,262.13L563.09,261.96L563.67,261.96L563.67,260.57L564.24,260.57L564.24,262.71L564.82,262.71L564.82,260.32L565.40,260.32L565.40,260.45L565.98,260.45L565.98,261.98L566.55,261.98L566.55,260.92L567.13,260.92L567.13,262.34L567.71,262.34L567.71,261.60L568.29,261.60L568.29,261.06L568.86,261.06L568.86,259.28L569.44,259.28L569.44,261.74L570.02,261.74L570.02,261.86L570.60,261.86L570.60,261.63L571.17,261.63L571.17,261.90L571.75,261.90L571.75,263.01L572.33,263.01L572.33,259.35L572.90,259.35L572.90,262.44L573.48,262.44L573.48,262.40L574.06,262.40L574.06,262.55L574.64,262.55L574.64,260.82L575.21,260.82L575.21,258.01L575.79,258.01L575.79,257.92L576.37,257.92L576.37,260.45L576.95,260.45L576.95,261.24L577.52,261.24L577.52,261.70L578.10,261.70L578.10,262.92L578.68,262.92L578.68,260.75L579.26,260.75L579.26,261.78L579.83,261.78L579.83,259.09L580.41,259.09L580.41,262.01L580.99,262.01L580.99,262.92L581.56,262.92L581.56,263.95L582.14,263.95L582.14,263.88L582.72,263.88L582.72,260.91L583.30,260.91L583.30,261.25L583.87,261.25L583.87,263.10L584.45,263.10L584.45,263.57L585.03,263.57L585.03,261.32L585.61,261.32L585.61,262.11L586.18,262.11L586.18,261.39L586.76,261.39L586.76,261.69L587.34,261.69L587.34,262.64L587.92,262.64L587.92,263.83L588.49,263.83L588.49,261.51L589.07,261.51L589.07,261.55L589.65,261.55L589.65,261.44L590.22,261.44L590.23,260.50L590.80,260.50L590.80,260.52L591.38,260.52L591.38,262.28L591.96,262.28L591.96,260.95L592.53,260.95L592.53,264.37L593.11,264.37L593.11,260.82L593.69,260.82L593.69,261.71L594.27,261.71L594.27,260.40L594.84,260.40L594.84,260.44L595.42,260.44L595.42,262.84L596.00,262.84L596.00,261.83L596.58,261.83L596.58,260.28L597.15,260.28L597.15,262.35L597.73,262.35L597.73,261.58L598.31,261.58L598.31,262.43L598.89,262.43L598.89,260.94L599.46,260.94L599.46,261.31L600.04,261.31L600.04,262.70L600.62,262.70L600.62,263.45L601.19,263.45L601.19,264.44L601.77,264.44L601.77,260.61L602.35,260.61L602.35,262.23L602.93,262.23L602.93,262.54L603.50,262.54L603.50,262.33L604.08,262.33L604.08,262.82L604.66,262.82L604.66,260.82L605.24,260.82L605.24,260.89L605.81,260.89L605.81,264.47L606.39,264.47L606.39,261.71L606.97,261.71L606.97,261.54L607.55,261.54L607.55,262.08L608.12,262.08L608.12,261.54L608.70,261.54L608.70,259.58L609.28,259.58L609.28,261.27L609.85,261.27L609.85,260.18L610.43,260.18L610.43,260.40L611.01,260.40L611.01,263.56L611.59,263.56L611.59,259.45L612.16,259.45L612.16,261.41L612.74,261.41L612.74,262.03L613.32,262.03L613.32,260.62L613.90,260.62L613.90,258.87L614.47,258.87L614.47,262.65L615.05,262.65L615.05,262.52L615.63,262.52L615.63,261.22L616.21,261.22L616.21,263.89L616.78,263.89L616.78,263.06L617.36,263.06L617.36,261.60L617.94,261.60L617.94,260.73L618.51,260.73L618.51,260.98L619.09,260.98L619.09,260.61L619.67,260.61L619.67,260.31L620.25,260.31L620.25,262.21L620.82,262.21L620.82,262.10L621.40,262.10L621.40,262.06L621.98,262.06L621.98,262.08L622.56,262.08L622.56,260.27L623.13,260.27L623.13,260.58L623.71,260.58L623.71,264.25L624.29,264.25L624.29,261.06L624.87,261.06L624.87,263.00L625.44,263.00L625.44,263.07L626.02,263.07L626.02,260.04L626.60,260.04L626.60,260.00L627.17,260.00L627.17,260.19L627.75,260.19L627.75,260.81L628.33,260.81L628.33,259.38L628.91,259.38L628.91,263.10L629.48,263.10L629.48,260.61L630.06,260.61L630.06,262.52L630.64,262.52L630.64,262.43L631.22,262.43L631.22,263.73L631.79,263.73L631.79,259.75L632.37,259.75L632.37,259.43L632.95,259.43L632.95,260.55L633.53,260.55L633.53,262.40L634.10,262.40L634.10,261.43L634.68,261.43L634.68,263.00L635.26,263.00L635.26,262.00L635.84,262.00L635.84,259.75L636.41,259.75L636.41,259.63L636.99,259.63L636.99,260.81L637.57,260.81L637.57,260.67L638.14,260.67L638.14,261.81L638.72,261.81L638.72,261.19L639.30,261.19L639.30,261.86L639.88,261.86L639.88,261.05L640.45,261.05L640.45,262.45L641.03,262.45L641.03,260.39L641.61,260.39L641.61,261.95L642.19,261.95L642.19,261.40L642.76,261.40L642.76,261.82L643.34,261.82L643.34,259.72L643.92,259.72L643.92,260.51L644.50,260.51L644.50,262.66L645.07,262.66L645.07,262.84L645.65,262.84L645.65,260.93L646.23,260.93L646.23,261.52L646.80,261.52L646.80,261.95L647.38,261.95L647.38,261.38L647.96,261.38L647.96,259.57L648.54,259.57L648.54,261.77L649.11,261.77L649.11,259.85L649.69,259.85L649.69,262.27L650.27,262.27L650.27,261.95L650.85,261.95L650.85,261.26L651.42,261.26L651.42,261.74L652.00,261.74L652.00,262.28L652.58,262.28L652.58,262.99L653.16,262.99L653.16,262.08L653.73,262.08L653.73,262.16L654.31,262.16L654.31,261.66L654.89,261.66L654.89,260.34L655.46,260.34L655.46,261.00L656.04,261.00L656.04,260.19L656.62,260.19L656.62,261.39L657.20,261.39L657.20,261.08L657.77,261.08L657.77,260.86L658.35,260.86L658.35,260.74L658.93,260.74L658.93,260.37L659.51,260.37L659.51,262.34L660.08,262.34L660.08,261.11L660.66,261.11L660.66,261.39L661.24,261.39L661.24,260.11L661.82,260.11L661.82,260.58L662.39,260.58L662.39,262.36L662.97,262.36L662.97,261.11L663.55,261.11L663.55,260.75L664.12,260.75L664.12,261.58L664.70,261.58L664.70,260.07L665.28,260.07L665.28,261.31L665.86,261.31L665.86,263.23L666.43,263.23L666.43,261.26L667.01,261.26L667.01,260.66L667.59,260.66L667.59,262.65L668.17,262.65L668.17,260.77L668.74,260.77L668.74,265.10L669.32,265.10L669.32,259.10L669.90,259.10L669.90,263.40L670.48,263.40L670.48,262.25L671.05,262.25L671.05,262.05L671.63,262.05L671.63,263.41L672.21,263.41L672.21,261.27L672.79,261.27L672.79,262.79L673.36,262.79L673.36,263.33L673.94,263.33L673.94,264.54L674.52,264.54L674.52,260.78L675.09,260.78L675.09,260.19L675.67,260.19L675.67,262.00L676.25,262.00L676.25,261.38L676.83,261.38L676.83,259.65L677.40,259.65L677.40,261.16L677.98,261.16L677.98,260.21L678.56,260.21L678.56,260.39L679.14,260.39L679.14,260.72L679.71,260.72L679.71,260.98L680.29,260.98L680.29,260.16L680.87,260.16L680.87,261.36L681.45,261.36L681.45,261.47L682.02,261.47L682.02,262.53L682.60,262.53L682.60,301.20Z" fill="#0000ff"/>
<path d="M534.80,301.2v-1.2M534.80,185.4v1.2" stroke="#888" stroke-width="0.5"/>
<path d="M563.67,301.2v-1.2M563.67,185.4v1.2" stroke="#888" stroke-width="0.5"/>
<path d="M592.53,301.2v-1.2M592.53,185.4v1.2" stroke="#888" stroke-width="0.5"/>
<path d="M621.40,301.2v-1.2M621.40,185.4v1.2" stroke="#888" stroke-width="0.5"/>
<path d="M650.27,301.2v-1.2M650.27,185.4v1.2" stroke="#888" stroke-width="0.5"/>
<path d="M679.14,301.2v-1.2M679.14,185.4v1.2" stroke="#888" stroke-width="0.5"/>
<path d="M534.8,301.20h1.2M682.6,301.20h-1.2" stroke="#888" stroke-width="0.5"/>
<path d="M534.8,281.90h1.2M682.6,281.90h-1.2" stroke="#888" stroke-width="0.5"/>
<path d="M534.8,262.60h1.2M682.6,262.60h-1.2" stroke="#888" stroke-width="0.5"/>
<path d="M534.8,243.30h1.2M682.6,243.30h-1.2" stroke="#888" stroke-width="0.5"/>
<path d="M534.8,224.00h1.2M682.6,224.00h-1.2" stroke="#888" stroke-width="0.5"/>
<path d="M534.8,204.70h1.2M682.6,204.70h-1.2" stroke="#888" stroke-width="0.5"/>
<path d="M534.8,185.40h1.2M682.6,185.40h-1.2" stroke="#888" stroke-width="0.5"/>
<text x="534.80" y="307.20" font-family="'DejaVu Sans', sans-serif" font-size="4.35" font-weight="bold" text-anchor="middle">0</text>
<text x="563.67" y="307.20" font-family="'DejaVu Sans', sans-serif" font-size="4.35" font-weight="bold" text-anchor="middle">50</text>
<text x="592.53" y="307.20" font-family="'DejaVu Sans', sans-serif" font-size="4.35" font-weight="bold" text-anchor="middle">100</text>
<text x="621.40" y="307.20" font-family="'DejaVu Sans', sans-serif" font-size="4.35" font-weight="bold" text-anchor="middle">150</text>
<text x="650.27" y="307.20" font-family="'DejaVu Sans', sans-serif" font-size="4.35" font-weight="bold" text-anchor="middle">200</text>
<text x="679.14" y="307.20" font-family="'DejaVu Sans', sans-serif" font-size="4.35" font-weight="bold" text-anchor="middle">250</text>
<text x="533.40" y="302.80" font-family="'DejaVu Sans', sans-serif" font-size="4.35" font-weight="bold" text-anchor="end">0</text>
<text x="533.40" y="283.50" font-family="'DejaVu Sans', sans-serif" font-size="4.35" font-weight="bold" text-anchor="end">500</text>
<text x="533.40" y="264.20" font-family="'DejaVu Sans', sans-serif" font-size="4.35" font-weight="bold" text-anchor="end">1000</text>
<text x="533.40" y="244.90" font-family="'DejaVu Sans', sans-serif" font-size="4.35" font-weight="bold" text-anchor="end">1500</text>
<text x="533.40" y="225.60" font-family="'DejaVu Sans', sans-serif" font-size="4.35" font-weight="bold" text-anchor="end">2000</text>
<text x="533.40" y="206.30" font-family="'DejaVu Sans', sans-serif" font-size="4.35" font-weight="bold" text-anchor="end">2500</text>
<text x="533.40" y="187.00" font-family="'DejaVu Sans', sans-serif" font-size="4.35" font-weight="bold" text-anchor="end">3000</text>
<text x="608.70" y="313.00" font-family="'DejaVu Sans', sans-serif" font-size="4.9" font-weight="bold" text-anchor="middle">Pixel Intensity</text>
<text x="0" y="0" transform="translate(521.50,243.30) rotate(-90)" font-family="'DejaVu Sans', sans-serif" font-size="4.9" font-weight="bold" text-anchor="middle">Frequency</text>
<text x="28.35" y="156.5" class="cap" textLength="18.39" lengthAdjust="spacingAndGlyphs">(a)</text>
<text x="53.32" y="156.5" class="cap" textLength="50.9" lengthAdjust="spacingAndGlyphs">Peppers</text>
<text x="202.66" y="156.5" class="cap" textLength="19.09" lengthAdjust="spacingAndGlyphs">(b)</text>
<text x="228.65" y="156.5" class="cap" textLength="24.09" lengthAdjust="spacingAndGlyphs">Red</text>
<text x="382.92" y="156.5" class="cap" textLength="16.76" lengthAdjust="spacingAndGlyphs">(c)</text>
<text x="406.78" y="156.5" class="cap" textLength="37.69" lengthAdjust="spacingAndGlyphs">Green</text>
<text x="572.14" y="156.5" class="cap" textLength="19.63" lengthAdjust="spacingAndGlyphs">(d)</text>
<text x="598.64" y="156.5" class="cap" textLength="28.81" lengthAdjust="spacingAndGlyphs">Blue</text>
<text x="15.42" y="339.4" class="cap" textLength="16.87" lengthAdjust="spacingAndGlyphs">(e)</text>
<text x="39.01" y="339.4" class="cap" textLength="22.2" lengthAdjust="spacingAndGlyphs">En.</text>
<text x="65.81" y="339.4" class="cap" textLength="51.31" lengthAdjust="spacingAndGlyphs">Peppers</text>
<text x="204.18" y="339.4" class="cap" textLength="16.07" lengthAdjust="spacingAndGlyphs">(f)</text>
<text x="227.45" y="339.4" class="cap" textLength="24.19" lengthAdjust="spacingAndGlyphs">Red</text>
<text x="382.51" y="339.4" class="cap" textLength="17.79" lengthAdjust="spacingAndGlyphs">(g)</text>
<text x="407.49" y="339.4" class="cap" textLength="37.28" lengthAdjust="spacingAndGlyphs">Green</text>
<text x="572.36" y="339.4" class="cap" textLength="19.09" lengthAdjust="spacingAndGlyphs">(h)</text>
<text x="598.64" y="339.4" class="cap" textLength="28.81" lengthAdjust="spacingAndGlyphs">Blue</text>
</svg>
</body></html>
